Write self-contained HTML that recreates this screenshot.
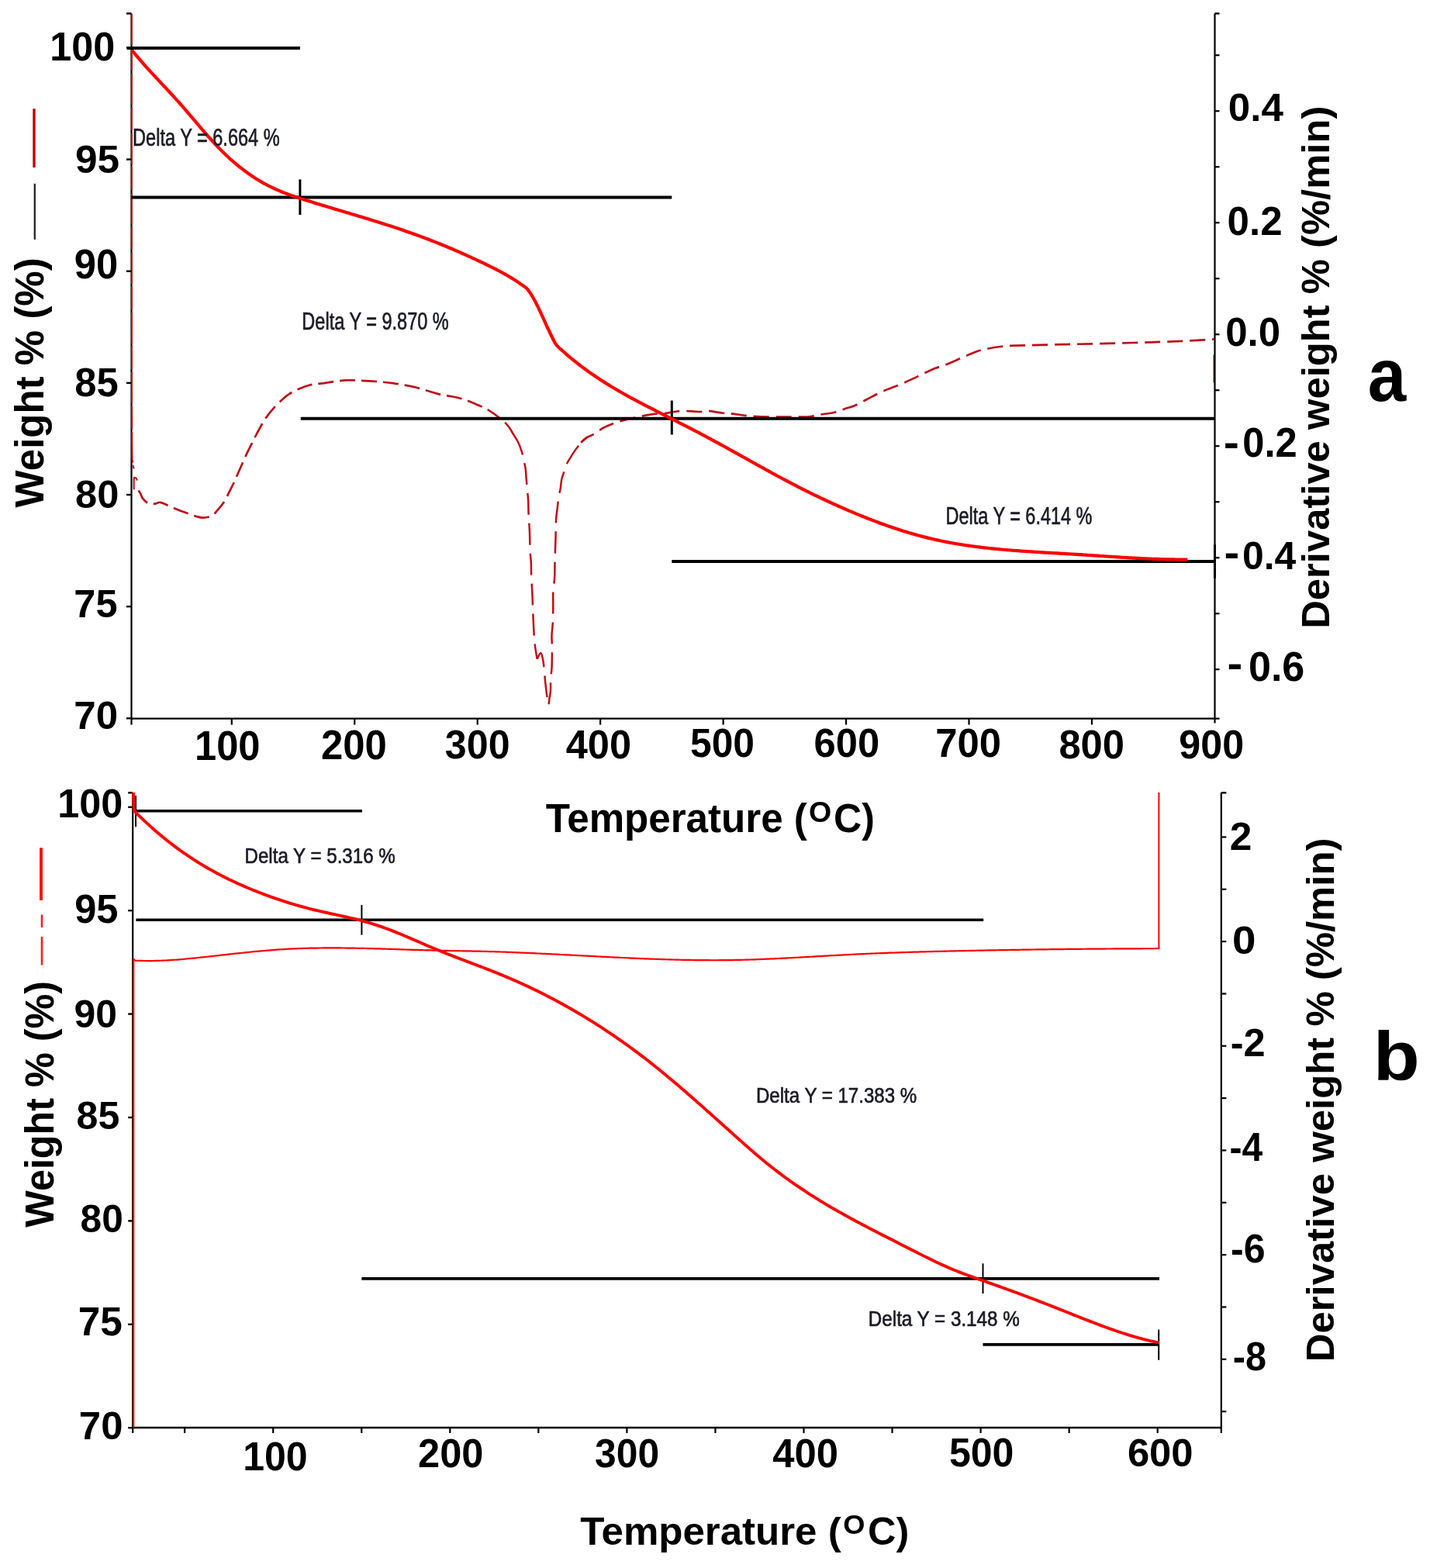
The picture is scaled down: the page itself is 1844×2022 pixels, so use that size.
<!DOCTYPE html>
<html><head><meta charset="utf-8"><title>TGA / DTG curves</title>
<style>
html,body{margin:0;padding:0;background:#fff;}
body{width:1844px;height:2022px;overflow:hidden;}
svg{display:block;}
text{font-family:"Liberation Sans",Arial,Helvetica,sans-serif;}
</style></head>
<body>
<svg width="1844" height="2022" viewBox="0 0 1844 2022">
<rect x="0" y="0" width="1844" height="2022" fill="#fff"/>
<line x1="169.5" y1="17.4" x2="169.5" y2="926.6" stroke="#000" stroke-width="2.2" />
<path d="M169.8,18 C169.8,65 169.73,209.67 169.8,300 C169.87,390.33 169.97,510.67 170.2,560 C170.43,609.33 170.78,588.6 171.2,596 C171.62,603.4 172.45,603 172.7,604.4" fill="none" stroke="#c00d18" stroke-width="2" stroke-linejoin="round" stroke-dasharray="40 3 30 4"/>
<path d="M172.7,631.3 L172.7,615.7 L175.5,616.5 L177,619.5" fill="none" stroke="#c00d18" stroke-width="2" stroke-linejoin="round" />
<path d="M178.6,632.4 C179.03,633.08 180.3,634.8 181.2,636.5 C182.1,638.2 182.35,640.48 184,642.6 C185.65,644.72 188.5,648.02 191.1,649.2 C193.7,650.38 197,649.93 199.6,649.7 C202.2,649.47 203.87,647.45 206.7,647.8 C209.53,648.15 213.07,650.32 216.6,651.8 C220.13,653.28 224.13,655.17 227.9,656.7 C231.67,658.23 235.2,659.52 239.2,661 C243.2,662.48 248.13,664.5 251.9,665.6 C255.67,666.7 258.27,667.67 261.8,667.6 C265.33,667.53 270.03,666.78 273.1,665.2 C276.17,663.62 277.6,661.05 280.2,658.1 C282.8,655.15 286.12,651.5 288.7,647.5 C291.28,643.5 293.58,638.22 295.7,634.1 C297.82,629.98 299.52,626.8 301.4,622.8 C303.28,618.8 305.12,614.35 307,610.1 C308.88,605.85 310.8,601.55 312.7,597.3 C314.6,593.05 316.52,588.6 318.4,584.6 C320.28,580.6 322.12,577.07 324,573.3 C325.88,569.53 327.35,566.47 329.7,562 C332.05,557.53 335.75,550.57 338.1,546.5 C340.45,542.43 341.67,540.58 343.8,537.6 C345.93,534.62 348.07,531.83 350.9,528.6 C353.73,525.37 357.27,521.53 360.8,518.2 C364.33,514.87 367.87,511.43 372.1,508.6 C376.33,505.77 381.48,503.25 386.2,501.2 C390.92,499.15 395.57,497.43 400.4,496.3 C405.23,495.17 410.18,495.1 415.2,494.4 C420.22,493.7 425.42,492.78 430.5,492.1 C435.58,491.42 440.63,490.55 445.7,490.3 C450.77,490.05 455.83,490.43 460.9,490.6 C465.97,490.77 471.02,490.98 476.1,491.3 C481.18,491.62 486.32,492.03 491.4,492.5 C496.48,492.97 501.53,493.42 506.6,494.1 C511.67,494.78 516.73,495.67 521.8,496.6 C526.87,497.53 531.92,498.42 537,499.7 C542.08,500.98 547.22,502.82 552.3,504.3 C557.38,505.78 562.43,507.43 567.5,508.6 C572.57,509.77 577.63,510.25 582.7,511.3 C587.77,512.35 592.82,513.28 597.9,514.9 C602.98,516.52 608.12,518.83 613.2,521 C618.28,523.17 623.33,524.98 628.4,527.9 C633.47,530.82 639.17,534.98 643.6,538.5 C648.03,542.02 651.85,545.27 655,549 C658.15,552.73 661.25,558.92 662.5,560.9" fill="none" stroke="#c00d18" stroke-width="2.7" stroke-linejoin="round" stroke-dasharray="20 8"/>
<path d="M662.5,560.9 C663.4,562.38 666.18,566.23 667.9,569.8 C669.62,573.37 671.55,578.28 672.8,582.3 C674.05,586.32 674.58,590.18 675.4,593.9 C676.22,597.62 677.17,600.87 677.7,604.6 C678.23,608.33 678.23,611.83 678.6,616.3 C678.97,620.77 679.48,626.62 679.9,631.4 C680.32,636.18 680.8,639.33 681.1,645 C681.4,650.67 681.38,658.43 681.7,665.4 C682.02,672.37 682.7,679.37 683,686.8 C683.3,694.23 683.2,703.6 683.5,710 C683.8,716.4 684.53,719.98 684.8,725.2 C685.07,730.42 684.82,734.22 685.1,741.3 C685.38,748.38 686.18,760.95 686.5,767.7 C686.82,774.45 686.68,773.95 687,781.8 C687.32,789.65 687.93,806.47 688.4,814.8 C688.87,823.13 689.1,825.98 689.8,831.8 C690.5,837.62 692.13,846.72 692.6,849.7" fill="none" stroke="#c00d18" stroke-width="2.5" stroke-linejoin="round" stroke-dasharray="28 11"/>
<path d="M692.6,849.7 C693.38,848.43 696.05,841.95 697.3,842.1 C698.55,842.25 699.38,847.3 700.1,850.6 C700.82,853.9 701.12,857.35 701.6,861.9 C702.08,866.45 702.43,872.38 703,877.9 C703.57,883.42 704.3,889.82 705,895 C705.7,900.18 706.6,908.17 707.2,909 C707.8,909.83 708.13,903.13 708.6,900 C709.07,896.87 709.77,894.52 710,890.2 C710.23,885.88 709.75,878.82 710,874.1 C710.25,869.38 711.18,868.48 711.5,861.9 C711.82,855.32 711.9,841.67 711.9,834.6 C711.9,827.53 711.33,825 711.5,819.5 C711.67,814 712.6,808.03 712.9,801.6 C713.2,795.17 713.23,787.18 713.3,780.9 C713.37,774.62 712.98,770.03 713.3,763.9 C713.62,757.77 714.83,750.58 715.2,744.1 C715.57,737.62 715.28,733.37 715.5,725 C715.72,716.63 716.25,702.95 716.5,693.9 C716.75,684.85 716.62,677.25 717,670.7 C717.38,664.15 718.22,659.65 718.8,654.6 C719.38,649.55 719.83,644.57 720.5,640.4 C721.17,636.23 722.2,633.18 722.8,629.6 C723.4,626.02 723.28,622.62 724.1,618.9 C724.92,615.18 726.65,610.57 727.7,607.3 C728.75,604.03 729.22,601.97 730.4,599.3 C731.58,596.63 733.02,594.28 734.8,591.3 C736.58,588.32 738.72,584.83 741.1,581.4 C743.48,577.97 747.77,572.48 749.1,570.7" fill="none" stroke="#c00d18" stroke-width="2.5" stroke-linejoin="round" stroke-dasharray="28 11"/>
<path d="M749.1,570.7 C750.42,569.58 754.17,565.83 757,564 C759.83,562.17 762.62,561.73 766.1,559.7 C769.58,557.67 773.92,554 777.9,551.8 C781.88,549.6 785.65,548.13 790,546.5 C794.35,544.87 798.4,543.5 804,542 C809.6,540.5 817.08,538.85 823.6,537.5 C830.12,536.15 837.67,534.62 843.1,533.9 C848.53,533.18 851.85,533.68 856.2,533.2 C860.55,532.72 864.85,531.55 869.2,531 C873.55,530.45 876.85,529.9 882.3,529.9 C887.75,529.9 896.78,531.02 901.9,531 C907.02,530.98 908.1,529.55 913,529.8 C917.9,530.05 925.85,531.85 931.3,532.5 C936.75,533.15 940.03,533.07 945.7,533.7 C951.37,534.33 957.68,535.65 965.3,536.3 C972.92,536.95 982.7,537.38 991.4,537.6 C1000.1,537.82 1008.8,537.65 1017.5,537.6 C1026.2,537.55 1037.08,537.77 1043.6,537.3 C1050.12,536.83 1051.17,535.73 1056.6,534.8 C1062.03,533.87 1070.77,532.97 1076.2,531.7 C1081.63,530.43 1084.85,528.67 1089.2,527.2 C1093.55,525.73 1097.6,524.9 1102.3,522.9 C1107,520.9 1111.27,518.3 1117.4,515.2 C1123.53,512.1 1131.85,507.55 1139.1,504.3 C1146.35,501.05 1153.65,498.77 1160.9,495.7 C1168.15,492.63 1175.37,489.27 1182.6,485.9 C1189.83,482.53 1197.78,478.22 1204.3,475.5 C1210.82,472.78 1215.17,472.22 1221.7,469.6 C1228.23,466.98 1237.12,462.57 1243.5,459.8 C1249.88,457.03 1255.28,454.63 1260,453 C1264.72,451.37 1266.8,451 1271.8,450 C1276.8,449 1283.83,447.72 1290,447 C1296.17,446.28 1294.8,446.18 1308.8,445.7 C1322.8,445.22 1348.63,444.72 1374,444.1 C1399.37,443.48 1435.62,442.72 1461,442 C1486.38,441.28 1508.9,440.57 1526.3,439.8 C1543.7,439.03 1558.88,437.8 1565.4,437.4" fill="none" stroke="#c00d18" stroke-width="2.7" stroke-linejoin="round" stroke-dasharray="20 9"/>
<line x1="1565.6" y1="457.6" x2="1565.6" y2="493.5" stroke="#c00d18" stroke-width="2.2" />
<line x1="169" y1="926.6" x2="1572.5" y2="926.6" stroke="#000" stroke-width="2.4" />
<line x1="1566.5" y1="17.4" x2="1566.5" y2="932.6" stroke="#000" stroke-width="2.2" />
<line x1="163" y1="17.4" x2="169.5" y2="17.4" stroke="#000" stroke-width="2.4" />
<line x1="163" y1="61.4" x2="169.5" y2="61.4" stroke="#000" stroke-width="2.4" />
<line x1="163" y1="205.55" x2="169.5" y2="205.55" stroke="#000" stroke-width="2.4" />
<line x1="163" y1="349.7" x2="169.5" y2="349.7" stroke="#000" stroke-width="2.4" />
<line x1="163" y1="493.85" x2="169.5" y2="493.85" stroke="#000" stroke-width="2.4" />
<line x1="163" y1="638" x2="169.5" y2="638" stroke="#000" stroke-width="2.4" />
<line x1="163" y1="782.15" x2="169.5" y2="782.15" stroke="#000" stroke-width="2.4" />
<line x1="163" y1="926.3" x2="169.5" y2="926.3" stroke="#000" stroke-width="2.4" />
<line x1="169.5" y1="926.6" x2="169.5" y2="934.6" stroke="#000" stroke-width="2.2" />
<line x1="298.8" y1="926.6" x2="298.8" y2="934.6" stroke="#000" stroke-width="2.2" />
<line x1="457.25" y1="926.6" x2="457.25" y2="934.6" stroke="#000" stroke-width="2.2" />
<line x1="615.7" y1="926.6" x2="615.7" y2="934.6" stroke="#000" stroke-width="2.2" />
<line x1="774.15" y1="926.6" x2="774.15" y2="934.6" stroke="#000" stroke-width="2.2" />
<line x1="932.6" y1="926.6" x2="932.6" y2="934.6" stroke="#000" stroke-width="2.2" />
<line x1="1091.05" y1="926.6" x2="1091.05" y2="934.6" stroke="#000" stroke-width="2.2" />
<line x1="1249.5" y1="926.6" x2="1249.5" y2="934.6" stroke="#000" stroke-width="2.2" />
<line x1="1407.95" y1="926.6" x2="1407.95" y2="934.6" stroke="#000" stroke-width="2.2" />
<line x1="1566.5" y1="17.4" x2="1572.5" y2="17.4" stroke="#000" stroke-width="2.4" />
<line x1="1566.5" y1="863.2" x2="1572.5" y2="863.2" stroke="#000" stroke-width="2.2" />
<line x1="1566.5" y1="791.2" x2="1572.5" y2="791.2" stroke="#000" stroke-width="2.2" />
<line x1="1566.5" y1="719.2" x2="1572.5" y2="719.2" stroke="#000" stroke-width="2.2" />
<line x1="1566.5" y1="647.2" x2="1572.5" y2="647.2" stroke="#000" stroke-width="2.2" />
<line x1="1566.5" y1="575.2" x2="1572.5" y2="575.2" stroke="#000" stroke-width="2.2" />
<line x1="1566.5" y1="503.2" x2="1572.5" y2="503.2" stroke="#000" stroke-width="2.2" />
<line x1="1566.5" y1="431.2" x2="1572.5" y2="431.2" stroke="#000" stroke-width="2.2" />
<line x1="1566.5" y1="359.2" x2="1572.5" y2="359.2" stroke="#000" stroke-width="2.2" />
<line x1="1566.5" y1="287.2" x2="1572.5" y2="287.2" stroke="#000" stroke-width="2.2" />
<line x1="1566.5" y1="215.2" x2="1572.5" y2="215.2" stroke="#000" stroke-width="2.2" />
<line x1="1566.5" y1="143.2" x2="1572.5" y2="143.2" stroke="#000" stroke-width="2.2" />
<line x1="1566.5" y1="71.2" x2="1572.5" y2="71.2" stroke="#000" stroke-width="2.2" />
<line x1="163.5" y1="62" x2="387" y2="62" stroke="#000" stroke-width="4" />
<line x1="169.5" y1="254.6" x2="866.3" y2="254.6" stroke="#000" stroke-width="4" />
<line x1="386.9" y1="231.4" x2="386.9" y2="277" stroke="#000" stroke-width="3" />
<line x1="387.8" y1="539.7" x2="1566.5" y2="539.7" stroke="#000" stroke-width="4" />
<line x1="866.3" y1="516.5" x2="866.3" y2="560.5" stroke="#000" stroke-width="3" />
<line x1="866.3" y1="724" x2="1566.5" y2="724" stroke="#000" stroke-width="4" />
<line x1="1566.5" y1="702.3" x2="1566.5" y2="745.8" stroke="#000" stroke-width="3" />
<path d="M170.2,64.73 C170.7,65.36 172.21,67.24 173.21,68.47 C174.22,69.7 175.22,70.91 176.22,72.12 C177.23,73.32 178.23,74.51 179.24,75.69 C180.24,76.87 181.25,78.04 182.25,79.2 C183.25,80.36 184.26,81.5 185.26,82.64 C186.27,83.78 187.27,84.91 188.27,86.03 C189.28,87.16 190.28,88.27 191.29,89.38 C192.29,90.48 193.3,91.58 194.3,92.68 C195.3,93.77 196.31,94.86 197.31,95.95 C198.32,97.03 199.32,98.11 200.32,99.19 C201.33,100.26 202.33,101.34 203.34,102.41 C204.34,103.48 205.34,104.55 206.35,105.62 C207.35,106.69 208.36,107.75 209.36,108.82 C210.37,109.89 211.37,110.96 212.37,112.03 C213.38,113.1 214.38,114.17 215.39,115.24 C216.39,116.32 217.39,117.39 218.4,118.47 C219.4,119.55 220.41,120.64 221.41,121.72 C222.42,122.81 223.42,123.91 224.42,125.01 C225.43,126.11 226.43,127.21 227.44,128.33 C228.44,129.44 229.44,130.56 230.45,131.69 C231.45,132.82 232.46,133.96 233.46,135.1 C234.47,136.24 235.47,137.4 236.47,138.55 C237.48,139.71 238.48,140.87 239.49,142.04 C240.49,143.21 241.49,144.38 242.5,145.56 C243.5,146.73 244.51,147.91 245.51,149.09 C246.51,150.27 247.52,151.45 248.52,152.64 C249.53,153.82 250.53,155 251.54,156.19 C252.54,157.37 253.54,158.55 254.55,159.73 C255.55,160.91 256.56,162.09 257.56,163.27 C258.56,164.44 259.57,165.61 260.57,166.78 C261.58,167.95 262.58,169.11 263.59,170.27 C264.59,171.43 265.59,172.58 266.6,173.73 C267.6,174.87 268.61,176.01 269.61,177.14 C270.61,178.27 271.62,179.39 272.62,180.5 C273.63,181.61 274.63,182.71 275.63,183.8 C276.64,184.89 277.64,185.98 278.65,187.04 C279.65,188.11 280.66,189.17 281.66,190.21 C282.66,191.25 283.67,192.28 284.67,193.3 C285.68,194.31 286.68,195.31 287.68,196.3 C288.69,197.29 289.69,198.26 290.7,199.22 C291.7,200.18 292.71,201.13 293.71,202.06 C294.71,203 295.72,203.92 296.72,204.83 C297.73,205.73 298.73,206.63 299.73,207.51 C300.74,208.39 301.74,209.26 302.75,210.11 C303.75,210.97 304.76,211.81 305.76,212.64 C306.76,213.47 307.77,214.29 308.77,215.09 C309.78,215.9 310.78,216.69 311.78,217.47 C312.79,218.25 313.79,219.02 314.8,219.77 C315.8,220.53 316.8,221.27 317.81,222 C318.81,222.73 319.82,223.45 320.82,224.15 C321.83,224.86 322.83,225.55 323.83,226.24 C324.84,226.92 325.84,227.59 326.85,228.25 C327.85,228.91 328.85,229.55 329.86,230.19 C330.86,230.82 331.87,231.45 332.87,232.06 C333.88,232.67 334.88,233.27 335.88,233.86 C336.89,234.45 337.89,235.03 338.9,235.6 C339.9,236.16 340.9,236.72 341.91,237.26 C342.91,237.81 343.92,238.34 344.92,238.87 C345.92,239.39 346.93,239.9 347.93,240.4 C348.94,240.9 349.94,241.39 350.95,241.87 C351.95,242.35 352.95,242.82 353.96,243.28 C354.96,243.74 355.97,244.2 356.97,244.64 C357.97,245.08 358.98,245.51 359.98,245.94 C360.99,246.36 361.99,246.78 363,247.19 C364,247.6 365,248 366.01,248.39 C367.01,248.79 368.02,249.17 369.02,249.55 C370.02,249.93 371.03,250.31 372.03,250.68 C373.04,251.04 374.04,251.41 375.04,251.76 C376.05,252.12 377.05,252.47 378.06,252.82 C379.06,253.17 380.07,253.51 381.07,253.85 C382.07,254.18 383.08,254.52 384.08,254.85 C385.09,255.18 386.09,255.51 387.09,255.83 C388.1,256.15 389.1,256.47 390.11,256.79 C391.11,257.11 392.12,257.43 393.12,257.74 C394.12,258.06 395.13,258.37 396.13,258.68 C397.14,259 398.14,259.31 399.14,259.62 C400.15,259.93 401.15,260.24 402.16,260.55 C403.16,260.86 404.17,261.16 405.17,261.47 C406.17,261.78 407.18,262.09 408.18,262.39 C409.19,262.7 410.19,263 411.19,263.31 C412.2,263.61 413.2,263.92 414.21,264.22 C415.21,264.53 416.21,264.83 417.22,265.13 C418.22,265.43 419.23,265.74 420.23,266.04 C421.24,266.34 422.24,266.64 423.24,266.94 C424.25,267.25 425.25,267.55 426.26,267.85 C427.26,268.15 428.26,268.45 429.27,268.75 C430.27,269.05 431.28,269.35 432.28,269.65 C433.29,269.95 434.29,270.25 435.29,270.55 C436.3,270.85 437.3,271.15 438.31,271.45 C439.31,271.75 440.31,272.05 441.32,272.35 C442.32,272.65 443.33,272.95 444.33,273.25 C445.33,273.55 446.34,273.85 447.34,274.15 C448.35,274.45 449.35,274.75 450.36,275.05 C451.36,275.35 452.36,275.65 453.37,275.95 C454.37,276.25 455.38,276.56 456.38,276.86 C457.38,277.16 458.39,277.46 459.39,277.76 C460.4,278.07 461.4,278.37 462.41,278.67 C463.41,278.98 464.41,279.28 465.42,279.58 C466.42,279.89 467.43,280.19 468.43,280.5 C469.43,280.8 470.44,281.11 471.44,281.42 C472.45,281.72 473.45,282.03 474.46,282.34 C475.46,282.65 476.46,282.95 477.47,283.26 C478.47,283.57 479.48,283.88 480.48,284.19 C481.48,284.5 482.49,284.82 483.49,285.13 C484.5,285.44 485.5,285.75 486.5,286.07 C487.51,286.38 488.51,286.7 489.52,287.02 C490.52,287.33 491.53,287.65 492.53,287.97 C493.53,288.29 494.54,288.6 495.54,288.93 C496.55,289.25 497.55,289.57 498.55,289.89 C499.56,290.21 500.56,290.54 501.57,290.86 C502.57,291.19 503.58,291.51 504.58,291.84 C505.58,292.17 506.59,292.5 507.59,292.83 C508.6,293.16 509.6,293.49 510.6,293.82 C511.61,294.16 512.61,294.49 513.62,294.83 C514.62,295.16 515.62,295.5 516.63,295.84 C517.63,296.18 518.64,296.52 519.64,296.86 C520.65,297.21 521.65,297.55 522.65,297.89 C523.66,298.24 524.66,298.59 525.67,298.94 C526.67,299.28 527.67,299.64 528.68,299.99 C529.68,300.34 530.69,300.69 531.69,301.05 C532.7,301.41 533.7,301.76 534.7,302.12 C535.71,302.48 536.71,302.84 537.72,303.21 C538.72,303.57 539.72,303.94 540.73,304.3 C541.73,304.67 542.74,305.04 543.74,305.41 C544.74,305.78 545.75,306.16 546.75,306.53 C547.76,306.91 548.76,307.29 549.77,307.67 C550.77,308.05 551.77,308.43 552.78,308.81 C553.78,309.2 554.79,309.58 555.79,309.97 C556.79,310.36 557.8,310.75 558.8,311.15 C559.81,311.54 560.81,311.93 561.82,312.33 C562.82,312.73 563.82,313.13 564.83,313.53 C565.83,313.94 566.84,314.34 567.84,314.75 C568.84,315.15 569.85,315.56 570.85,315.97 C571.86,316.38 572.86,316.8 573.87,317.21 C574.87,317.63 575.87,318.04 576.88,318.46 C577.88,318.88 578.89,319.31 579.89,319.73 C580.89,320.15 581.9,320.58 582.9,321.01 C583.91,321.43 584.91,321.86 585.91,322.3 C586.92,322.73 587.92,323.16 588.93,323.6 C589.93,324.04 590.94,324.47 591.94,324.91 C592.94,325.35 593.95,325.8 594.95,326.24 C595.96,326.68 596.96,327.13 597.96,327.58 C598.97,328.03 599.97,328.48 600.98,328.93 C601.98,329.38 602.99,329.84 603.99,330.29 C604.99,330.75 606,331.21 607,331.66 C608.01,332.12 609.01,332.59 610.01,333.05 C611.02,333.51 612.02,333.98 613.03,334.45 C614.03,334.91 615.03,335.38 616.04,335.85 C617.04,336.33 618.05,336.8 619.05,337.27 C620.06,337.75 621.06,338.22 622.06,338.7 C623.07,339.18 624.07,339.66 625.08,340.14 C626.08,340.63 627.08,341.11 628.09,341.6 C629.09,342.08 630.1,342.57 631.1,343.07 C632.11,343.56 633.11,344.06 634.11,344.56 C635.12,345.06 636.12,345.56 637.13,346.07 C638.13,346.58 639.13,347.09 640.14,347.61 C641.14,348.13 642.15,348.66 643.15,349.19 C644.16,349.72 645.16,350.25 646.16,350.8 C647.17,351.34 648.17,351.89 649.18,352.44 C650.18,353 651.18,353.56 652.19,354.13 C653.19,354.71 654.2,355.28 655.2,355.87 C656.2,356.46 657.21,357.05 658.21,357.66 C659.22,358.27 660.22,358.88 661.23,359.5 C662.23,360.13 663.23,360.76 664.24,361.4 C665.24,362.05 666.25,362.7 667.25,363.37 C668.25,364.03 669.26,364.71 670.26,365.39 C671.27,366.08 672.27,366.78 673.28,367.49 C674.28,368.2 675.28,368.93 676.29,369.66 C677.29,370.4 678.45,371.11 679.3,371.91 C680.15,372.71 680.68,373.59 681.37,374.49 C682.06,375.4 682.74,376.33 683.43,377.33 C684.12,378.34 684.81,379.41 685.5,380.52 C686.19,381.63 686.88,382.8 687.57,384.01 C688.26,385.22 688.94,386.47 689.63,387.76 C690.32,389.05 691.01,390.39 691.7,391.75 C692.39,393.1 693.08,394.5 693.77,395.92 C694.46,397.33 695.14,398.78 695.83,400.24 C696.52,401.7 697.21,403.18 697.9,404.68 C698.59,406.17 699.28,407.68 699.97,409.19 C700.66,410.7 701.34,412.22 702.03,413.73 C702.72,415.25 703.41,416.77 704.1,418.28 C704.79,419.79 705.48,421.3 706.17,422.79 C706.86,424.27 707.54,425.76 708.23,427.21 C708.92,428.67 709.61,430.11 710.3,431.53 C710.99,432.94 711.68,434.33 712.37,435.69 C713.06,437.04 713.74,438.37 714.43,439.65 C715.12,440.94 715.65,442.15 716.5,443.39 C717.35,444.63 718.5,446 719.51,447.07 C720.51,448.15 721.51,448.92 722.51,449.84 C723.52,450.75 724.52,451.65 725.52,452.54 C726.52,453.44 727.52,454.32 728.53,455.19 C729.53,456.07 730.53,456.94 731.53,457.79 C732.54,458.65 733.54,459.5 734.54,460.34 C735.54,461.18 736.54,462.01 737.55,462.83 C738.55,463.66 739.55,464.47 740.55,465.28 C741.56,466.08 742.56,466.88 743.56,467.67 C744.56,468.47 745.56,469.25 746.57,470.02 C747.57,470.8 748.57,471.57 749.57,472.33 C750.58,473.09 751.58,473.84 752.58,474.59 C753.58,475.33 754.58,476.07 755.59,476.8 C756.59,477.53 757.59,478.26 758.59,478.98 C759.6,479.69 760.6,480.41 761.6,481.11 C762.6,481.81 763.6,482.51 764.61,483.2 C765.61,483.9 766.61,484.58 767.61,485.26 C768.62,485.94 769.62,486.61 770.62,487.28 C771.62,487.95 772.62,488.61 773.63,489.27 C774.63,489.92 775.63,490.57 776.63,491.22 C777.64,491.86 778.64,492.5 779.64,493.14 C780.64,493.77 781.64,494.4 782.65,495.02 C783.65,495.65 784.65,496.27 785.65,496.88 C786.65,497.49 787.66,498.1 788.66,498.71 C789.66,499.31 790.66,499.91 791.67,500.51 C792.67,501.11 793.67,501.7 794.67,502.29 C795.67,502.87 796.68,503.46 797.68,504.04 C798.68,504.62 799.68,505.19 800.69,505.76 C801.69,506.34 802.69,506.91 803.69,507.47 C804.69,508.04 805.7,508.6 806.7,509.16 C807.7,509.71 808.7,510.27 809.71,510.82 C810.71,511.37 811.71,511.92 812.71,512.47 C813.71,513.01 814.72,513.56 815.72,514.1 C816.72,514.64 817.72,515.18 818.73,515.71 C819.73,516.25 820.73,516.78 821.73,517.32 C822.73,517.85 823.74,518.38 824.74,518.9 C825.74,519.43 826.74,519.96 827.75,520.48 C828.75,521.01 829.75,521.53 830.75,522.05 C831.75,522.57 832.76,523.09 833.76,523.61 C834.76,524.13 835.76,524.64 836.77,525.16 C837.77,525.67 838.77,526.19 839.77,526.7 C840.77,527.22 841.78,527.73 842.78,528.24 C843.78,528.75 844.78,529.27 845.79,529.78 C846.79,530.29 847.79,530.8 848.79,531.31 C849.79,531.82 850.8,532.33 851.8,532.83 C852.8,533.34 853.8,533.85 854.81,534.36 C855.81,534.87 856.81,535.37 857.81,535.88 C858.81,536.39 859.82,536.9 860.82,537.4 C861.82,537.91 862.82,538.42 863.83,538.93 C864.83,539.43 865.83,539.94 866.83,540.45 C867.83,540.95 868.84,541.46 869.84,541.97 C870.84,542.48 871.84,542.99 872.85,543.49 C873.85,544 874.85,544.51 875.85,545.02 C876.85,545.53 877.86,546.04 878.86,546.55 C879.86,547.06 880.86,547.57 881.87,548.09 C882.87,548.6 883.87,549.11 884.87,549.63 C885.87,550.14 886.88,550.65 887.88,551.17 C888.88,551.69 889.88,552.2 890.89,552.72 C891.89,553.24 892.89,553.76 893.89,554.28 C894.89,554.8 895.9,555.32 896.9,555.84 C897.9,556.37 898.9,556.89 899.91,557.42 C900.91,557.94 901.91,558.47 902.91,559 C903.91,559.53 904.92,560.06 905.92,560.59 C906.92,561.12 907.92,561.66 908.93,562.19 C909.93,562.73 910.93,563.26 911.93,563.8 C912.93,564.34 913.94,564.88 914.94,565.42 C915.94,565.96 916.94,566.5 917.95,567.04 C918.95,567.58 919.95,568.13 920.95,568.67 C921.95,569.22 922.96,569.76 923.96,570.31 C924.96,570.86 925.96,571.4 926.96,571.95 C927.97,572.5 928.97,573.05 929.97,573.6 C930.97,574.15 931.98,574.7 932.98,575.26 C933.98,575.81 934.98,576.36 935.98,576.91 C936.99,577.47 937.99,578.02 938.99,578.58 C939.99,579.13 941,579.68 942,580.24 C943,580.8 944,581.35 945,581.91 C946.01,582.46 947.01,583.02 948.01,583.58 C949.01,584.14 950.02,584.69 951.02,585.25 C952.02,585.81 953.02,586.37 954.02,586.93 C955.03,587.48 956.03,588.04 957.03,588.6 C958.03,589.16 959.04,589.72 960.04,590.27 C961.04,590.83 962.04,591.39 963.04,591.95 C964.05,592.51 965.05,593.07 966.05,593.62 C967.05,594.18 968.06,594.74 969.06,595.3 C970.06,595.86 971.06,596.41 972.06,596.97 C973.07,597.53 974.07,598.08 975.07,598.64 C976.07,599.2 977.08,599.75 978.08,600.31 C979.08,600.86 980.08,601.42 981.08,601.97 C982.09,602.52 983.09,603.08 984.09,603.63 C985.09,604.18 986.1,604.74 987.1,605.29 C988.1,605.84 989.1,606.39 990.1,606.94 C991.11,607.49 992.11,608.04 993.11,608.59 C994.11,609.13 995.12,609.68 996.12,610.23 C997.12,610.77 998.12,611.32 999.12,611.86 C1000.13,612.41 1001.13,612.95 1002.13,613.49 C1003.13,614.03 1004.14,614.57 1005.14,615.11 C1006.14,615.65 1007.14,616.19 1008.14,616.73 C1009.15,617.26 1010.15,617.8 1011.15,618.33 C1012.15,618.87 1013.16,619.4 1014.16,619.93 C1015.16,620.46 1016.16,620.99 1017.16,621.52 C1018.17,622.05 1019.17,622.57 1020.17,623.1 C1021.17,623.62 1022.18,624.14 1023.18,624.67 C1024.18,625.19 1025.18,625.71 1026.18,626.22 C1027.19,626.74 1028.19,627.26 1029.19,627.77 C1030.19,628.29 1031.2,628.8 1032.2,629.31 C1033.2,629.82 1034.2,630.33 1035.2,630.83 C1036.21,631.34 1037.21,631.84 1038.21,632.34 C1039.21,632.85 1040.22,633.35 1041.22,633.84 C1042.22,634.34 1043.22,634.84 1044.22,635.33 C1045.23,635.83 1046.23,636.32 1047.23,636.81 C1048.23,637.3 1049.24,637.79 1050.24,638.28 C1051.24,638.76 1052.24,639.25 1053.24,639.73 C1054.25,640.21 1055.25,640.69 1056.25,641.17 C1057.25,641.65 1058.25,642.13 1059.26,642.6 C1060.26,643.07 1061.26,643.55 1062.26,644.02 C1063.27,644.49 1064.27,644.96 1065.27,645.42 C1066.27,645.89 1067.27,646.36 1068.28,646.82 C1069.28,647.28 1070.28,647.74 1071.28,648.2 C1072.29,648.66 1073.29,649.12 1074.29,649.57 C1075.29,650.03 1076.29,650.48 1077.3,650.93 C1078.3,651.38 1079.3,651.83 1080.3,652.28 C1081.31,652.72 1082.31,653.17 1083.31,653.61 C1084.31,654.06 1085.31,654.5 1086.32,654.94 C1087.32,655.37 1088.32,655.81 1089.32,656.25 C1090.33,656.68 1091.33,657.11 1092.33,657.55 C1093.33,657.98 1094.33,658.41 1095.34,658.83 C1096.34,659.26 1097.34,659.69 1098.34,660.11 C1099.35,660.53 1100.35,660.95 1101.35,661.37 C1102.35,661.79 1103.35,662.21 1104.36,662.62 C1105.36,663.04 1106.36,663.45 1107.36,663.86 C1108.37,664.27 1109.37,664.68 1110.37,665.09 C1111.37,665.5 1112.37,665.9 1113.38,666.3 C1114.38,666.7 1115.38,667.1 1116.38,667.5 C1117.39,667.9 1118.39,668.3 1119.39,668.69 C1120.39,669.08 1121.39,669.47 1122.4,669.86 C1123.4,670.25 1124.4,670.64 1125.4,671.02 C1126.41,671.4 1127.41,671.79 1128.41,672.16 C1129.41,672.54 1130.41,672.92 1131.42,673.29 C1132.42,673.67 1133.42,674.04 1134.42,674.41 C1135.43,674.78 1136.43,675.14 1137.43,675.51 C1138.43,675.87 1139.43,676.23 1140.44,676.59 C1141.44,676.95 1142.44,677.3 1143.44,677.66 C1144.45,678.01 1145.45,678.36 1146.45,678.71 C1147.45,679.06 1148.45,679.4 1149.46,679.74 C1150.46,680.09 1151.46,680.42 1152.46,680.76 C1153.47,681.1 1154.47,681.43 1155.47,681.76 C1156.47,682.09 1157.47,682.42 1158.48,682.75 C1159.48,683.07 1160.48,683.39 1161.48,683.71 C1162.49,684.03 1163.49,684.35 1164.49,684.66 C1165.49,684.98 1166.49,685.29 1167.5,685.59 C1168.5,685.9 1169.5,686.21 1170.5,686.51 C1171.51,686.81 1172.51,687.11 1173.51,687.4 C1174.51,687.7 1175.51,687.99 1176.52,688.28 C1177.52,688.57 1178.52,688.86 1179.52,689.14 C1180.53,689.42 1181.53,689.7 1182.53,689.98 C1183.53,690.26 1184.53,690.53 1185.54,690.8 C1186.54,691.07 1187.54,691.34 1188.54,691.61 C1189.55,691.87 1190.55,692.13 1191.55,692.39 C1192.55,692.65 1193.55,692.9 1194.56,693.15 C1195.56,693.4 1196.56,693.65 1197.56,693.9 C1198.56,694.14 1199.57,694.38 1200.57,694.62 C1201.57,694.86 1202.57,695.09 1203.58,695.32 C1204.58,695.56 1205.58,695.78 1206.58,696.01 C1207.58,696.23 1208.59,696.45 1209.59,696.67 C1210.59,696.89 1211.59,697.1 1212.6,697.31 C1213.6,697.53 1214.6,697.73 1215.6,697.94 C1216.6,698.14 1217.61,698.34 1218.61,698.54 C1219.61,698.74 1220.61,698.93 1221.62,699.12 C1222.62,699.32 1223.62,699.51 1224.62,699.69 C1225.62,699.88 1226.63,700.06 1227.63,700.24 C1228.63,700.42 1229.63,700.6 1230.64,700.77 C1231.64,700.94 1232.64,701.11 1233.64,701.28 C1234.64,701.45 1235.65,701.62 1236.65,701.78 C1237.65,701.94 1238.65,702.1 1239.66,702.26 C1240.66,702.42 1241.66,702.58 1242.66,702.73 C1243.66,702.88 1244.67,703.03 1245.67,703.18 C1246.67,703.33 1247.67,703.47 1248.68,703.62 C1249.68,703.76 1250.68,703.9 1251.68,704.04 C1252.68,704.18 1253.69,704.32 1254.69,704.45 C1255.69,704.59 1256.69,704.72 1257.7,704.85 C1258.7,704.98 1259.7,705.11 1260.7,705.23 C1261.7,705.36 1262.71,705.48 1263.71,705.61 C1264.71,705.73 1265.71,705.85 1266.72,705.97 C1267.72,706.08 1268.72,706.2 1269.72,706.32 C1270.72,706.43 1271.73,706.54 1272.73,706.65 C1273.73,706.76 1274.73,706.87 1275.74,706.98 C1276.74,707.09 1277.74,707.19 1278.74,707.3 C1279.74,707.4 1280.75,707.5 1281.75,707.61 C1282.75,707.71 1283.75,707.81 1284.76,707.9 C1285.76,708 1286.76,708.1 1287.76,708.19 C1288.76,708.29 1289.77,708.38 1290.77,708.47 C1291.77,708.56 1292.77,708.65 1293.78,708.74 C1294.78,708.83 1295.78,708.92 1296.78,709 C1297.78,709.09 1298.79,709.18 1299.79,709.26 C1300.79,709.34 1301.79,709.42 1302.8,709.51 C1303.8,709.59 1304.8,709.67 1305.8,709.75 C1306.8,709.83 1307.81,709.9 1308.81,709.98 C1309.81,710.06 1310.81,710.13 1311.82,710.21 C1312.82,710.28 1313.82,710.35 1314.82,710.43 C1315.82,710.5 1316.83,710.57 1317.83,710.64 C1318.83,710.71 1319.83,710.78 1320.84,710.85 C1321.84,710.92 1322.84,710.99 1323.84,711.06 C1324.84,711.12 1325.85,711.19 1326.85,711.26 C1327.85,711.32 1328.85,711.39 1329.85,711.45 C1330.86,711.52 1331.86,711.58 1332.86,711.65 C1333.86,711.71 1334.87,711.77 1335.87,711.83 C1336.87,711.9 1337.87,711.96 1338.87,712.02 C1339.88,712.08 1340.88,712.14 1341.88,712.2 C1342.88,712.26 1343.89,712.32 1344.89,712.38 C1345.89,712.44 1346.89,712.5 1347.89,712.56 C1348.9,712.62 1349.9,712.68 1350.9,712.74 C1351.9,712.8 1352.91,712.85 1353.91,712.91 C1354.91,712.97 1355.91,713.03 1356.91,713.09 C1357.92,713.14 1358.92,713.2 1359.92,713.26 C1360.92,713.32 1361.93,713.37 1362.93,713.43 C1363.93,713.49 1364.93,713.55 1365.93,713.6 C1366.94,713.66 1367.94,713.72 1368.94,713.78 C1369.94,713.84 1370.95,713.89 1371.95,713.95 C1372.95,714.01 1373.95,714.07 1374.95,714.13 C1375.96,714.19 1376.96,714.24 1377.96,714.3 C1378.96,714.36 1379.97,714.42 1380.97,714.48 C1381.97,714.54 1382.97,714.6 1383.97,714.66 C1384.98,714.72 1385.98,714.78 1386.98,714.85 C1387.98,714.91 1388.99,714.97 1389.99,715.03 C1390.99,715.09 1391.99,715.16 1392.99,715.22 C1394,715.28 1395,715.35 1396,715.41 C1397,715.48 1398.01,715.54 1399.01,715.61 C1400.01,715.67 1401.01,715.74 1402.01,715.8 C1403.02,715.87 1404.02,715.93 1405.02,716 C1406.02,716.06 1407.03,716.13 1408.03,716.2 C1409.03,716.26 1410.03,716.33 1411.03,716.39 C1412.04,716.46 1413.04,716.53 1414.04,716.59 C1415.04,716.66 1416.05,716.73 1417.05,716.79 C1418.05,716.86 1419.05,716.93 1420.05,716.99 C1421.06,717.06 1422.06,717.13 1423.06,717.19 C1424.06,717.26 1425.07,717.33 1426.07,717.39 C1427.07,717.46 1428.07,717.52 1429.07,717.59 C1430.08,717.66 1431.08,717.72 1432.08,717.79 C1433.08,717.85 1434.09,717.92 1435.09,717.98 C1436.09,718.05 1437.09,718.11 1438.09,718.17 C1439.1,718.24 1440.1,718.3 1441.1,718.37 C1442.1,718.43 1443.11,718.49 1444.11,718.55 C1445.11,718.62 1446.11,718.68 1447.11,718.74 C1448.12,718.8 1449.12,718.86 1450.12,718.92 C1451.12,718.98 1452.13,719.04 1453.13,719.1 C1454.13,719.16 1455.13,719.22 1456.13,719.28 C1457.14,719.33 1458.14,719.39 1459.14,719.45 C1460.14,719.5 1461.15,719.56 1462.15,719.61 C1463.15,719.67 1464.15,719.72 1465.15,719.78 C1466.16,719.83 1467.16,719.88 1468.16,719.93 C1469.16,719.98 1470.16,720.03 1471.17,720.08 C1472.17,720.13 1473.17,720.18 1474.17,720.23 C1475.18,720.28 1476.18,720.32 1477.18,720.37 C1478.18,720.41 1479.18,720.46 1480.19,720.5 C1481.19,720.55 1482.19,720.59 1483.19,720.63 C1484.2,720.67 1485.2,720.71 1486.2,720.75 C1487.2,720.79 1488.2,720.83 1489.21,720.86 C1490.21,720.9 1491.21,720.93 1492.21,720.97 C1493.22,721 1494.22,721.03 1495.22,721.07 C1496.22,721.1 1497.22,721.13 1498.23,721.15 C1499.23,721.18 1500.23,721.21 1501.23,721.24 C1502.24,721.26 1503.24,721.28 1504.24,721.31 C1505.24,721.33 1506.24,721.35 1507.25,721.37 C1508.25,721.39 1509.25,721.41 1510.25,721.42 C1511.26,721.44 1512.26,721.45 1513.26,721.47 C1514.26,721.48 1515.26,721.49 1516.27,721.5 C1517.27,721.51 1518.27,721.52 1519.27,721.52 C1520.28,721.53 1521.28,721.54 1522.28,721.54 C1523.28,721.54 1524.28,721.54 1525.29,721.54 C1526.29,721.54 1527.29,721.54 1528.29,721.53 C1529.3,721.52 1530.8,721.51 1531.3,721.51" fill="none" stroke="#ff0000" stroke-width="4.2" stroke-linejoin="round" />
<line x1="44" y1="140.2" x2="44" y2="216" stroke="#c00000" stroke-width="3.4" />
<line x1="44.8" y1="236.8" x2="44.8" y2="308.9" stroke="#222" stroke-width="2.3" />
<text transform="translate(64.35 78.08) scale(0.9602 1)" font-size="52.44" font-weight="700" fill="#000">100</text>
<text transform="translate(96.95 223.26) scale(1.0372 1)" font-size="49.47" font-weight="700" fill="#000">95</text>
<text transform="translate(95.72 359.47) scale(0.9570 1)" font-size="53" font-weight="700" fill="#000">90</text>
<text transform="translate(96.35 510.74) scale(0.9898 1)" font-size="51.24" font-weight="700" fill="#000">85</text>
<text transform="translate(97.11 654.51) scale(1.0229 1)" font-size="49.47" font-weight="700" fill="#000">80</text>
<text transform="translate(95.35 795.75) scale(1.0060 1)" font-size="50.18" font-weight="700" fill="#000">75</text>
<text transform="translate(95.33 939.51) scale(1.0328 1)" font-size="49.47" font-weight="700" fill="#000">70</text>
<text transform="translate(250.93 980.37) scale(0.9598 1)" font-size="52.86" font-weight="700" fill="#000">100</text>
<text transform="translate(413.92 978.67) scale(0.9596 1)" font-size="53" font-weight="700" fill="#000">200</text>
<text transform="translate(573.87 977.85) scale(0.9573 1)" font-size="52.39" font-weight="700" fill="#000">300</text>
<text transform="translate(729.74 978.18) scale(0.9665 1)" font-size="52.3" font-weight="700" fill="#000">400</text>
<text transform="translate(890.01 976.49) scale(0.9687 1)" font-size="51.31" font-weight="700" fill="#000">500</text>
<text transform="translate(1049.6 976.49) scale(0.9868 1)" font-size="51.31" font-weight="700" fill="#000">600</text>
<text transform="translate(1206.24 976.49) scale(0.9899 1)" font-size="51.31" font-weight="700" fill="#000">700</text>
<text transform="translate(1365.45 978.18) scale(0.9766 1)" font-size="51.87" font-weight="700" fill="#000">800</text>
<text transform="translate(1520.34 978.18) scale(0.9672 1)" font-size="51.87" font-weight="700" fill="#000">900</text>
<text transform="translate(1583.86 155.69) scale(1.0066 1)" font-size="50.74" font-weight="700" fill="#000">0.4</text>
<text transform="translate(1582.56 303.17) scale(0.9709 1)" font-size="52.58" font-weight="700" fill="#000">0.2</text>
<text transform="translate(1580.26 445.88) scale(0.9857 1)" font-size="51.73" font-weight="700" fill="#000">0.0</text>
<text transform="translate(1602.27 589.07) scale(0.9559 1)" font-size="53" font-weight="700" fill="#000">0.2</text>
<text transform="translate(1577.68 588.53) scale(1.1433 1)" font-size="53" font-weight="700" fill="#000">-</text>
<text transform="translate(1602.01 733.7) scale(0.9956 1)" font-size="50.04" font-weight="700" fill="#000">0.4</text>
<text transform="translate(1578.62 730.78) scale(1.1209 1)" font-size="53" font-weight="700" fill="#000">-</text>
<text transform="translate(1609.92 878.36) scale(0.9648 1)" font-size="53.99" font-weight="700" fill="#000">0.6</text>
<text transform="translate(1582.62 873.78) scale(1.1209 1)" font-size="53" font-weight="700" fill="#000">-</text>
<text transform="translate(703.79 1073.43) scale(1.0035 1)" font-size="50.94" font-weight="700" fill="#000">Temperature (</text>
<text transform="translate(1042.9 1059.64) scale(1.0379 1)" font-size="36.18" font-weight="700" fill="#000">O</text>
<text transform="translate(1075 1073.34) scale(0.9744 1)" font-size="51.37" font-weight="700" fill="#000">C)</text>
<text transform="translate(56.07 654.4) rotate(-90) scale(1.0005 1)" font-size="50.99" font-weight="700" fill="#000">Weight % (%)</text>
<text transform="translate(1714.3 810.83) rotate(-90) scale(1.0085 1)" font-size="50.35" font-weight="700" fill="#000">Derivative weight % (%/min)</text>
<text transform="translate(1763.63 516.84) scale(0.9230 1)" font-size="96.44" font-weight="700" fill="#000">a</text>
<text transform="translate(171.06 188.19) scale(0.7698 1)" font-size="30.61" font-weight="400" fill="#1c1c28" stroke="#1c1c28" stroke-width="0.7">Delta Y = 6.664 %</text>
<text transform="translate(389.36 424.99) scale(0.7589 1)" font-size="31.02" font-weight="400" fill="#1c1c28" stroke="#1c1c28" stroke-width="0.7">Delta Y = 9.870 %</text>
<text transform="translate(1219.56 676.19) scale(0.7466 1)" font-size="31.43" font-weight="400" fill="#1c1c28" stroke="#1c1c28" stroke-width="0.7">Delta Y = 6.414 %</text>
<line x1="171.2" y1="1022.3" x2="171.2" y2="1848" stroke="#000" stroke-width="2.2" />
<line x1="171.2" y1="1841" x2="1574.8" y2="1841" stroke="#000" stroke-width="2.4" />
<line x1="1574.8" y1="1022.3" x2="1574.8" y2="1848" stroke="#000" stroke-width="2.2" />
<line x1="165.2" y1="1022.3" x2="171.2" y2="1022.3" stroke="#000" stroke-width="2.4" />
<line x1="165.2" y1="1040.8" x2="171.2" y2="1040.8" stroke="#000" stroke-width="2.4" />
<line x1="165.2" y1="1174.2" x2="171.2" y2="1174.2" stroke="#000" stroke-width="2.4" />
<line x1="165.2" y1="1307.6" x2="171.2" y2="1307.6" stroke="#000" stroke-width="2.4" />
<line x1="165.2" y1="1441" x2="171.2" y2="1441" stroke="#000" stroke-width="2.4" />
<line x1="165.2" y1="1574.4" x2="171.2" y2="1574.4" stroke="#000" stroke-width="2.4" />
<line x1="165.2" y1="1707.8" x2="171.2" y2="1707.8" stroke="#000" stroke-width="2.4" />
<line x1="165.2" y1="1841.2" x2="171.2" y2="1841.2" stroke="#000" stroke-width="2.4" />
<line x1="238.15" y1="1841" x2="238.15" y2="1848" stroke="#000" stroke-width="2.2" />
<line x1="352.2" y1="1841" x2="352.2" y2="1848" stroke="#000" stroke-width="2.2" />
<line x1="466.25" y1="1841" x2="466.25" y2="1848" stroke="#000" stroke-width="2.2" />
<line x1="580.3" y1="1841" x2="580.3" y2="1848" stroke="#000" stroke-width="2.2" />
<line x1="694.35" y1="1841" x2="694.35" y2="1848" stroke="#000" stroke-width="2.2" />
<line x1="808.4" y1="1841" x2="808.4" y2="1848" stroke="#000" stroke-width="2.2" />
<line x1="922.45" y1="1841" x2="922.45" y2="1848" stroke="#000" stroke-width="2.2" />
<line x1="1036.5" y1="1841" x2="1036.5" y2="1848" stroke="#000" stroke-width="2.2" />
<line x1="1150.55" y1="1841" x2="1150.55" y2="1848" stroke="#000" stroke-width="2.2" />
<line x1="1264.6" y1="1841" x2="1264.6" y2="1848" stroke="#000" stroke-width="2.2" />
<line x1="1378.65" y1="1841" x2="1378.65" y2="1848" stroke="#000" stroke-width="2.2" />
<line x1="1492.7" y1="1841" x2="1492.7" y2="1848" stroke="#000" stroke-width="2.2" />
<line x1="1574.8" y1="1022.3" x2="1581.3" y2="1022.3" stroke="#000" stroke-width="2.4" />
<line x1="1574.8" y1="1079.42" x2="1581.3" y2="1079.42" stroke="#000" stroke-width="2.2" />
<line x1="1574.8" y1="1146.76" x2="1581.3" y2="1146.76" stroke="#000" stroke-width="2.2" />
<line x1="1574.8" y1="1214.1" x2="1581.3" y2="1214.1" stroke="#000" stroke-width="2.2" />
<line x1="1574.8" y1="1281.44" x2="1581.3" y2="1281.44" stroke="#000" stroke-width="2.2" />
<line x1="1574.8" y1="1348.78" x2="1581.3" y2="1348.78" stroke="#000" stroke-width="2.2" />
<line x1="1574.8" y1="1416.12" x2="1581.3" y2="1416.12" stroke="#000" stroke-width="2.2" />
<line x1="1574.8" y1="1483.46" x2="1581.3" y2="1483.46" stroke="#000" stroke-width="2.2" />
<line x1="1574.8" y1="1550.8" x2="1581.3" y2="1550.8" stroke="#000" stroke-width="2.2" />
<line x1="1574.8" y1="1618.14" x2="1581.3" y2="1618.14" stroke="#000" stroke-width="2.2" />
<line x1="1574.8" y1="1685.48" x2="1581.3" y2="1685.48" stroke="#000" stroke-width="2.2" />
<line x1="1574.8" y1="1752.82" x2="1581.3" y2="1752.82" stroke="#000" stroke-width="2.2" />
<line x1="1574.8" y1="1820.16" x2="1581.3" y2="1820.16" stroke="#000" stroke-width="2.2" />
<line x1="172.3" y1="1841" x2="172.3" y2="1236.5" stroke="#ff0000" stroke-width="2" />
<path d="M172.3,1236.5 L174,1238.6 L177.01,1238.75 L180.01,1238.87 L183.02,1238.96 L186.02,1239.02 L189.03,1239.06 L192.03,1239.07 L195.04,1239.06 L198.04,1239.02 L201.05,1238.96 L204.05,1238.88 L207.06,1238.77 L210.07,1238.65 L213.07,1238.5 L216.08,1238.34 L219.08,1238.16 L222.09,1237.97 L225.09,1237.75 L228.1,1237.53 L231.1,1237.29 L234.11,1237.04 L237.11,1236.78 L240.12,1236.5 L243.13,1236.22 L246.13,1235.93 L249.14,1235.63 L252.14,1235.32 L255.15,1235.01 L258.15,1234.69 L261.16,1234.37 L264.16,1234.05 L267.17,1233.72 L270.17,1233.39 L273.18,1233.06 L276.19,1232.72 L279.19,1232.39 L282.2,1232.05 L285.2,1231.71 L288.21,1231.37 L291.21,1231.04 L294.22,1230.7 L297.22,1230.36 L300.23,1230.03 L303.24,1229.7 L306.24,1229.37 L309.25,1229.04 L312.25,1228.72 L315.26,1228.4 L318.26,1228.09 L321.27,1227.78 L324.27,1227.48 L327.28,1227.18 L330.28,1226.89 L333.29,1226.6 L336.3,1226.33 L339.3,1226.06 L342.31,1225.79 L345.31,1225.54 L348.32,1225.3 L351.32,1225.06 L354.33,1224.84 L357.33,1224.62 L360.34,1224.42 L363.34,1224.23 L366.35,1224.05 L369.36,1223.88 L372.36,1223.72 L375.37,1223.57 L378.37,1223.43 L381.38,1223.3 L384.38,1223.18 L387.39,1223.07 L390.39,1222.97 L393.4,1222.88 L396.4,1222.8 L399.41,1222.72 L402.42,1222.66 L405.42,1222.6 L408.43,1222.55 L411.43,1222.51 L414.44,1222.48 L417.44,1222.45 L420.45,1222.43 L423.45,1222.42 L426.46,1222.41 L429.46,1222.41 L432.47,1222.42 L435.48,1222.43 L438.48,1222.45 L441.49,1222.48 L444.49,1222.51 L447.5,1222.54 L450.5,1222.59 L453.51,1222.63 L456.51,1222.68 L459.52,1222.73 L462.52,1222.79 L465.53,1222.86 L468.54,1222.92 L471.54,1222.99 L474.55,1223.06 L477.55,1223.14 L480.56,1223.22 L483.56,1223.3 L486.57,1223.38 L489.57,1223.47 L492.58,1223.56 L495.58,1223.65 L498.59,1223.74 L501.6,1223.83 L504.6,1223.92 L507.61,1224.02 L510.61,1224.11 L513.62,1224.21 L516.62,1224.31 L519.63,1224.4 L522.63,1224.5 L525.64,1224.59 L528.65,1224.69 L531.65,1224.78 L534.66,1224.87 L537.66,1224.97 L540.67,1225.05 L543.67,1225.14 L546.68,1225.23 L549.68,1225.31 L552.69,1225.4 L555.69,1225.47 L558.7,1225.55 L561.71,1225.62 L564.71,1225.69 L567.72,1225.76 L570.72,1225.82 L573.73,1225.88 L576.73,1225.94 L579.74,1226 L582.74,1226.05 L585.75,1226.1 L588.75,1226.15 L591.76,1226.2 L594.77,1226.25 L597.77,1226.31 L600.78,1226.36 L603.78,1226.41 L606.79,1226.47 L609.79,1226.53 L612.8,1226.59 L615.8,1226.65 L618.81,1226.72 L621.81,1226.79 L624.82,1226.86 L627.83,1226.94 L630.83,1227.03 L633.84,1227.11 L636.84,1227.2 L639.85,1227.3 L642.85,1227.4 L645.86,1227.5 L648.86,1227.6 L651.87,1227.71 L654.87,1227.82 L657.88,1227.93 L660.89,1228.05 L663.89,1228.17 L666.9,1228.29 L669.9,1228.41 L672.91,1228.54 L675.91,1228.67 L678.92,1228.8 L681.92,1228.93 L684.93,1229.07 L687.93,1229.21 L690.94,1229.35 L693.95,1229.49 L696.95,1229.63 L699.96,1229.78 L702.96,1229.92 L705.97,1230.07 L708.97,1230.22 L711.98,1230.37 L714.98,1230.52 L717.99,1230.68 L720.99,1230.83 L724,1230.98 L727.01,1231.14 L730.01,1231.29 L733.02,1231.45 L736.02,1231.61 L739.03,1231.76 L742.03,1231.92 L745.04,1232.08 L748.04,1232.24 L751.05,1232.4 L754.06,1232.55 L757.06,1232.71 L760.07,1232.87 L763.07,1233.02 L766.08,1233.18 L769.08,1233.34 L772.09,1233.49 L775.09,1233.65 L778.1,1233.8 L781.1,1233.95 L784.11,1234.1 L787.12,1234.25 L790.12,1234.4 L793.13,1234.55 L796.13,1234.69 L799.14,1234.84 L802.14,1234.98 L805.15,1235.12 L808.15,1235.26 L811.16,1235.4 L814.16,1235.53 L817.17,1235.67 L820.18,1235.8 L823.18,1235.93 L826.19,1236.05 L829.19,1236.18 L832.2,1236.3 L835.2,1236.42 L838.21,1236.53 L841.21,1236.64 L844.22,1236.75 L847.22,1236.86 L850.23,1236.96 L853.24,1237.06 L856.24,1237.16 L859.25,1237.25 L862.25,1237.34 L865.26,1237.43 L868.26,1237.51 L871.27,1237.59 L874.27,1237.66 L877.28,1237.73 L880.28,1237.8 L883.29,1237.86 L886.3,1237.92 L889.3,1237.97 L892.31,1238.02 L895.31,1238.06 L898.32,1238.1 L901.32,1238.14 L904.33,1238.17 L907.33,1238.19 L910.34,1238.21 L913.34,1238.22 L916.35,1238.23 L919.36,1238.24 L922.36,1238.23 L925.37,1238.23 L928.37,1238.21 L931.38,1238.19 L934.38,1238.17 L937.39,1238.14 L940.39,1238.1 L943.4,1238.06 L946.41,1238.01 L949.41,1237.95 L952.42,1237.89 L955.42,1237.82 L958.43,1237.74 L961.43,1237.66 L964.44,1237.58 L967.44,1237.48 L970.45,1237.39 L973.45,1237.28 L976.46,1237.17 L979.47,1237.06 L982.47,1236.94 L985.48,1236.82 L988.48,1236.7 L991.49,1236.57 L994.49,1236.43 L997.5,1236.29 L1000.5,1236.15 L1003.51,1236.01 L1006.51,1235.86 L1009.52,1235.71 L1012.53,1235.56 L1015.53,1235.4 L1018.54,1235.24 L1021.54,1235.08 L1024.55,1234.92 L1027.55,1234.75 L1030.56,1234.59 L1033.56,1234.42 L1036.57,1234.25 L1039.57,1234.08 L1042.58,1233.91 L1045.59,1233.74 L1048.59,1233.57 L1051.6,1233.4 L1054.6,1233.22 L1057.61,1233.05 L1060.61,1232.88 L1063.62,1232.71 L1066.62,1232.54 L1069.63,1232.37 L1072.63,1232.2 L1075.64,1232.03 L1078.65,1231.86 L1081.65,1231.7 L1084.66,1231.54 L1087.66,1231.37 L1090.67,1231.22 L1093.67,1231.06 L1096.68,1230.91 L1099.68,1230.75 L1102.69,1230.61 L1105.69,1230.46 L1108.7,1230.32 L1111.71,1230.18 L1114.71,1230.04 L1117.72,1229.91 L1120.72,1229.77 L1123.73,1229.64 L1126.73,1229.52 L1129.74,1229.39 L1132.74,1229.27 L1135.75,1229.15 L1138.75,1229.03 L1141.76,1228.92 L1144.77,1228.81 L1147.77,1228.7 L1150.78,1228.59 L1153.78,1228.48 L1156.79,1228.38 L1159.79,1228.28 L1162.8,1228.18 L1165.8,1228.08 L1168.81,1227.98 L1171.82,1227.89 L1174.82,1227.8 L1177.83,1227.71 L1180.83,1227.62 L1183.84,1227.53 L1186.84,1227.44 L1189.85,1227.36 L1192.85,1227.28 L1195.86,1227.2 L1198.86,1227.12 L1201.87,1227.04 L1204.88,1226.96 L1207.88,1226.88 L1210.89,1226.81 L1213.89,1226.74 L1216.9,1226.66 L1219.9,1226.59 L1222.91,1226.52 L1225.91,1226.45 L1228.92,1226.39 L1231.92,1226.32 L1234.93,1226.25 L1237.94,1226.19 L1240.94,1226.12 L1243.95,1226.06 L1246.95,1225.99 L1249.96,1225.93 L1252.96,1225.87 L1255.97,1225.81 L1258.97,1225.75 L1261.98,1225.69 L1264.98,1225.63 L1267.99,1225.57 L1271,1225.51 L1274,1225.46 L1277.01,1225.4 L1280.01,1225.35 L1283.02,1225.29 L1286.02,1225.24 L1289.03,1225.19 L1292.03,1225.13 L1295.04,1225.08 L1298.04,1225.03 L1301.05,1224.98 L1304.06,1224.93 L1307.06,1224.89 L1310.07,1224.84 L1313.07,1224.79 L1316.08,1224.75 L1319.08,1224.7 L1322.09,1224.65 L1325.09,1224.61 L1328.1,1224.57 L1331.1,1224.52 L1334.11,1224.48 L1337.12,1224.44 L1340.12,1224.4 L1343.13,1224.36 L1346.13,1224.32 L1349.14,1224.28 L1352.14,1224.25 L1355.15,1224.21 L1358.15,1224.17 L1361.16,1224.14 L1364.16,1224.1 L1367.17,1224.07 L1370.18,1224.03 L1373.18,1224 L1376.19,1223.97 L1379.19,1223.94 L1382.2,1223.91 L1385.2,1223.88 L1388.21,1223.85 L1391.21,1223.82 L1394.22,1223.79 L1397.23,1223.76 L1400.23,1223.73 L1403.24,1223.71 L1406.24,1223.68 L1409.25,1223.66 L1412.25,1223.63 L1415.26,1223.61 L1418.26,1223.59 L1421.27,1223.56 L1424.27,1223.54 L1427.28,1223.52 L1430.29,1223.5 L1433.29,1223.48 L1436.3,1223.46 L1439.3,1223.44 L1442.31,1223.42 L1445.31,1223.41 L1448.32,1223.39 L1451.32,1223.37 L1454.33,1223.36 L1457.33,1223.34 L1460.34,1223.33 L1463.35,1223.32 L1466.35,1223.3 L1469.36,1223.29 L1472.36,1223.28 L1475.37,1223.27 L1478.37,1223.26 L1481.38,1223.25 L1484.38,1223.24 L1487.39,1223.23 L1490.39,1223.22 L1493.4,1223.21" fill="none" stroke="#ff0000" stroke-width="2.2" stroke-linejoin="round" />
<line x1="1494.4" y1="1224.2" x2="1494.4" y2="1022" stroke="#ff0000" stroke-width="2" />
<line x1="174.5" y1="1045.7" x2="467" y2="1045.7" stroke="#000" stroke-width="3.6" />
<line x1="175" y1="1026" x2="175" y2="1066.2" stroke="#000" stroke-width="2" />
<line x1="175.4" y1="1186.3" x2="1268.2" y2="1186.3" stroke="#000" stroke-width="3.6" />
<line x1="466.4" y1="1166.9" x2="466.4" y2="1205.7" stroke="#000" stroke-width="2" />
<line x1="466.3" y1="1648.9" x2="1495" y2="1648.9" stroke="#000" stroke-width="3.6" />
<line x1="1267.5" y1="1629.3" x2="1267.5" y2="1668" stroke="#000" stroke-width="2" />
<line x1="1267.5" y1="1733.9" x2="1495" y2="1733.9" stroke="#000" stroke-width="3.6" />
<line x1="1494.2" y1="1714.5" x2="1494.2" y2="1753.8" stroke="#000" stroke-width="2" />
<path d="M172,1022 L172.4,1035 L173.2,1046.3" fill="none" stroke="#ff0000" stroke-width="3.9" stroke-linejoin="round" />
<path d="M173.2,1045.74 C173.7,1046.25 175.2,1047.78 176.2,1048.78 C177.2,1049.78 178.2,1050.77 179.2,1051.76 C180.2,1052.74 181.2,1053.72 182.2,1054.69 C183.2,1055.65 184.2,1056.61 185.2,1057.56 C186.2,1058.52 187.2,1059.46 188.2,1060.39 C189.2,1061.33 190.2,1062.25 191.2,1063.17 C192.2,1064.09 193.2,1065 194.2,1065.9 C195.2,1066.8 196.2,1067.7 197.2,1068.58 C198.2,1069.47 199.2,1070.35 200.2,1071.22 C201.2,1072.09 202.2,1072.95 203.2,1073.8 C204.2,1074.66 205.2,1075.51 206.2,1076.35 C207.2,1077.19 208.2,1078.02 209.2,1078.84 C210.2,1079.67 211.2,1080.48 212.2,1081.29 C213.2,1082.1 214.2,1082.9 215.2,1083.7 C216.2,1084.49 217.2,1085.28 218.2,1086.06 C219.2,1086.84 220.2,1087.62 221.2,1088.38 C222.2,1089.15 223.2,1089.91 224.2,1090.66 C225.2,1091.41 226.2,1092.16 227.2,1092.9 C228.2,1093.64 229.2,1094.37 230.2,1095.09 C231.2,1095.82 232.2,1096.54 233.2,1097.25 C234.2,1097.96 235.2,1098.67 236.2,1099.37 C237.2,1100.06 238.2,1100.76 239.2,1101.44 C240.2,1102.13 241.2,1102.81 242.2,1103.48 C243.2,1104.15 244.2,1104.82 245.2,1105.48 C246.2,1106.14 247.2,1106.8 248.2,1107.45 C249.2,1108.09 250.2,1108.74 251.2,1109.37 C252.2,1110.01 253.2,1110.64 254.2,1111.27 C255.2,1111.89 256.2,1112.51 257.2,1113.12 C258.2,1113.74 259.2,1114.34 260.2,1114.95 C261.2,1115.55 262.2,1116.14 263.2,1116.73 C264.2,1117.33 265.2,1117.91 266.2,1118.49 C267.2,1119.07 268.2,1119.65 269.2,1120.21 C270.2,1120.78 271.2,1121.35 272.2,1121.91 C273.2,1122.47 274.2,1123.02 275.2,1123.57 C276.2,1124.12 277.2,1124.66 278.2,1125.2 C279.2,1125.74 280.2,1126.27 281.2,1126.8 C282.2,1127.33 283.2,1127.85 284.2,1128.37 C285.2,1128.89 286.2,1129.4 287.2,1129.91 C288.2,1130.42 289.2,1130.93 290.2,1131.43 C291.2,1131.93 292.2,1132.43 293.2,1132.92 C294.2,1133.41 295.2,1133.9 296.2,1134.38 C297.2,1134.86 298.2,1135.34 299.2,1135.82 C300.2,1136.29 301.2,1136.76 302.2,1137.23 C303.2,1137.69 304.2,1138.16 305.2,1138.61 C306.2,1139.07 307.2,1139.53 308.2,1139.98 C309.2,1140.43 310.2,1140.87 311.2,1141.32 C312.2,1141.76 313.2,1142.2 314.2,1142.63 C315.2,1143.07 316.2,1143.5 317.2,1143.93 C318.2,1144.36 319.2,1144.78 320.2,1145.2 C321.2,1145.62 322.2,1146.04 323.2,1146.46 C324.2,1146.87 325.2,1147.28 326.2,1147.69 C327.2,1148.1 328.2,1148.5 329.2,1148.9 C330.2,1149.3 331.2,1149.7 332.2,1150.1 C333.2,1150.49 334.2,1150.88 335.2,1151.27 C336.2,1151.66 337.2,1152.04 338.2,1152.42 C339.2,1152.8 340.2,1153.18 341.2,1153.56 C342.2,1153.93 343.2,1154.3 344.2,1154.67 C345.2,1155.04 346.2,1155.41 347.2,1155.77 C348.2,1156.13 349.2,1156.49 350.2,1156.84 C351.2,1157.2 352.2,1157.55 353.2,1157.9 C354.2,1158.25 355.2,1158.59 356.2,1158.94 C357.2,1159.28 358.2,1159.62 359.2,1159.96 C360.2,1160.29 361.2,1160.62 362.2,1160.96 C363.2,1161.29 364.2,1161.61 365.2,1161.94 C366.2,1162.26 367.2,1162.58 368.2,1162.9 C369.2,1163.22 370.2,1163.53 371.2,1163.84 C372.2,1164.15 373.2,1164.46 374.2,1164.77 C375.2,1165.07 376.2,1165.37 377.2,1165.67 C378.2,1165.97 379.2,1166.27 380.2,1166.56 C381.2,1166.86 382.2,1167.15 383.2,1167.43 C384.2,1167.72 385.2,1168 386.2,1168.29 C387.2,1168.57 388.2,1168.85 389.2,1169.12 C390.2,1169.4 391.2,1169.67 392.2,1169.94 C393.2,1170.21 394.2,1170.47 395.2,1170.74 C396.2,1171 397.2,1171.26 398.2,1171.52 C399.2,1171.78 400.2,1172.03 401.2,1172.28 C402.2,1172.54 403.2,1172.78 404.2,1173.03 C405.2,1173.28 406.2,1173.52 407.2,1173.76 C408.2,1174 409.2,1174.24 410.2,1174.47 C411.2,1174.71 412.2,1174.94 413.2,1175.17 C414.2,1175.4 415.2,1175.63 416.2,1175.85 C417.2,1176.08 418.2,1176.3 419.2,1176.52 C420.2,1176.75 421.2,1176.97 422.2,1177.19 C423.2,1177.41 424.2,1177.62 425.2,1177.84 C426.2,1178.06 427.2,1178.28 428.2,1178.49 C429.2,1178.71 430.2,1178.92 431.2,1179.14 C432.2,1179.36 433.2,1179.57 434.2,1179.79 C435.2,1180 436.2,1180.22 437.2,1180.44 C438.2,1180.65 439.2,1180.87 440.2,1181.09 C441.2,1181.31 442.2,1181.53 443.2,1181.75 C444.2,1181.97 445.2,1182.19 446.2,1182.41 C447.2,1182.64 448.2,1182.86 449.2,1183.09 C450.2,1183.32 451.2,1183.55 452.2,1183.78 C453.2,1184.01 454.2,1184.25 455.2,1184.48 C456.2,1184.72 457.2,1184.96 458.2,1185.21 C459.2,1185.45 460.2,1185.7 461.2,1185.95 C462.2,1186.2 463.2,1186.45 464.2,1186.71 C465.2,1186.97 466.2,1187.23 467.2,1187.5 C468.2,1187.76 469.2,1188.03 470.2,1188.31 C471.2,1188.58 472.2,1188.86 473.2,1189.15 C474.2,1189.43 475.2,1189.72 476.2,1190.02 C477.2,1190.31 478.2,1190.61 479.2,1190.92 C480.2,1191.23 481.2,1191.54 482.2,1191.86 C483.2,1192.17 484.2,1192.5 485.2,1192.83 C486.2,1193.16 487.2,1193.49 488.2,1193.83 C489.2,1194.17 490.2,1194.51 491.2,1194.86 C492.2,1195.21 493.2,1195.57 494.2,1195.93 C495.2,1196.29 496.2,1196.65 497.2,1197.02 C498.2,1197.38 499.2,1197.76 500.2,1198.13 C501.2,1198.51 502.2,1198.89 503.2,1199.27 C504.2,1199.66 505.2,1200.05 506.2,1200.44 C507.2,1200.83 508.2,1201.22 509.2,1201.62 C510.2,1202.02 511.2,1202.42 512.2,1202.83 C513.2,1203.23 514.2,1203.64 515.2,1204.05 C516.2,1204.46 517.2,1204.87 518.2,1205.29 C519.2,1205.7 520.2,1206.12 521.2,1206.54 C522.2,1206.96 523.2,1207.38 524.2,1207.81 C525.2,1208.23 526.2,1208.66 527.2,1209.08 C528.2,1209.51 529.2,1209.94 530.2,1210.37 C531.2,1210.8 532.2,1211.23 533.2,1211.67 C534.2,1212.1 535.2,1212.53 536.2,1212.97 C537.2,1213.4 538.2,1213.84 539.2,1214.27 C540.2,1214.71 541.2,1215.15 542.2,1215.58 C543.2,1216.02 544.2,1216.45 545.2,1216.89 C546.2,1217.32 547.2,1217.76 548.2,1218.19 C549.2,1218.62 550.2,1219.06 551.2,1219.49 C552.2,1219.92 553.2,1220.35 554.2,1220.77 C555.2,1221.2 556.2,1221.63 557.2,1222.05 C558.2,1222.47 559.2,1222.9 560.2,1223.31 C561.2,1223.73 562.2,1224.15 563.2,1224.56 C564.2,1224.97 565.2,1225.39 566.2,1225.79 C567.2,1226.2 568.2,1226.61 569.2,1227.01 C570.2,1227.42 571.2,1227.82 572.2,1228.22 C573.2,1228.62 574.2,1229.02 575.2,1229.41 C576.2,1229.81 577.2,1230.2 578.2,1230.6 C579.2,1230.99 580.2,1231.38 581.2,1231.77 C582.2,1232.16 583.2,1232.55 584.2,1232.94 C585.2,1233.32 586.2,1233.71 587.2,1234.1 C588.2,1234.48 589.2,1234.86 590.2,1235.25 C591.2,1235.63 592.2,1236.01 593.2,1236.39 C594.2,1236.78 595.2,1237.16 596.2,1237.54 C597.2,1237.92 598.2,1238.3 599.2,1238.68 C600.2,1239.05 601.2,1239.43 602.2,1239.81 C603.2,1240.19 604.2,1240.57 605.2,1240.95 C606.2,1241.33 607.2,1241.71 608.2,1242.08 C609.2,1242.46 610.2,1242.84 611.2,1243.22 C612.2,1243.6 613.2,1243.98 614.2,1244.36 C615.2,1244.74 616.2,1245.12 617.2,1245.5 C618.2,1245.88 619.2,1246.27 620.2,1246.65 C621.2,1247.03 622.2,1247.42 623.2,1247.8 C624.2,1248.18 625.2,1248.57 626.2,1248.96 C627.2,1249.35 628.2,1249.73 629.2,1250.12 C630.2,1250.51 631.2,1250.9 632.2,1251.3 C633.2,1251.69 634.2,1252.08 635.2,1252.48 C636.2,1252.88 637.2,1253.27 638.2,1253.67 C639.2,1254.07 640.2,1254.48 641.2,1254.88 C642.2,1255.28 643.2,1255.69 644.2,1256.1 C645.2,1256.51 646.2,1256.92 647.2,1257.33 C648.2,1257.74 649.2,1258.16 650.2,1258.57 C651.2,1258.99 652.2,1259.41 653.2,1259.84 C654.2,1260.26 655.2,1260.68 656.2,1261.11 C657.2,1261.54 658.2,1261.97 659.2,1262.4 C660.2,1262.84 661.2,1263.27 662.2,1263.71 C663.2,1264.15 664.2,1264.59 665.2,1265.03 C666.2,1265.47 667.2,1265.92 668.2,1266.37 C669.2,1266.81 670.2,1267.27 671.2,1267.72 C672.2,1268.17 673.2,1268.63 674.2,1269.09 C675.2,1269.54 676.2,1270 677.2,1270.47 C678.2,1270.93 679.2,1271.4 680.2,1271.87 C681.2,1272.34 682.2,1272.81 683.2,1273.28 C684.2,1273.75 685.2,1274.23 686.2,1274.71 C687.2,1275.19 688.2,1275.67 689.2,1276.16 C690.2,1276.64 691.2,1277.13 692.2,1277.62 C693.2,1278.11 694.2,1278.6 695.2,1279.1 C696.2,1279.59 697.2,1280.09 698.2,1280.59 C699.2,1281.09 700.2,1281.59 701.2,1282.1 C702.2,1282.61 703.2,1283.11 704.2,1283.63 C705.2,1284.14 706.2,1284.65 707.2,1285.17 C708.2,1285.69 709.2,1286.21 710.2,1286.73 C711.2,1287.25 712.2,1287.78 713.2,1288.3 C714.2,1288.83 715.2,1289.36 716.2,1289.9 C717.2,1290.43 718.2,1290.97 719.2,1291.51 C720.2,1292.05 721.2,1292.59 722.2,1293.13 C723.2,1293.68 724.2,1294.22 725.2,1294.78 C726.2,1295.33 727.2,1295.88 728.2,1296.44 C729.2,1296.99 730.2,1297.55 731.2,1298.11 C732.2,1298.67 733.2,1299.24 734.2,1299.81 C735.2,1300.38 736.2,1300.95 737.2,1301.52 C738.2,1302.09 739.2,1302.67 740.2,1303.25 C741.2,1303.83 742.2,1304.41 743.2,1305 C744.2,1305.58 745.2,1306.17 746.2,1306.76 C747.2,1307.35 748.2,1307.94 749.2,1308.54 C750.2,1309.14 751.2,1309.74 752.2,1310.34 C753.2,1310.94 754.2,1311.55 755.2,1312.16 C756.2,1312.77 757.2,1313.38 758.2,1313.99 C759.2,1314.61 760.2,1315.23 761.2,1315.85 C762.2,1316.47 763.2,1317.09 764.2,1317.72 C765.2,1318.35 766.2,1318.98 767.2,1319.61 C768.2,1320.24 769.2,1320.88 770.2,1321.52 C771.2,1322.16 772.2,1322.8 773.2,1323.44 C774.2,1324.09 775.2,1324.74 776.2,1325.39 C777.2,1326.04 778.2,1326.7 779.2,1327.35 C780.2,1328.01 781.2,1328.67 782.2,1329.34 C783.2,1330 784.2,1330.67 785.2,1331.34 C786.2,1332.01 787.2,1332.68 788.2,1333.36 C789.2,1334.03 790.2,1334.71 791.2,1335.39 C792.2,1336.08 793.2,1336.76 794.2,1337.45 C795.2,1338.14 796.2,1338.83 797.2,1339.53 C798.2,1340.22 799.2,1340.92 800.2,1341.62 C801.2,1342.33 802.2,1343.03 803.2,1343.74 C804.2,1344.45 805.2,1345.16 806.2,1345.87 C807.2,1346.59 808.2,1347.31 809.2,1348.03 C810.2,1348.75 811.2,1349.47 812.2,1350.2 C813.2,1350.93 814.2,1351.66 815.2,1352.4 C816.2,1353.13 817.2,1353.87 818.2,1354.61 C819.2,1355.35 820.2,1356.09 821.2,1356.84 C822.2,1357.59 823.2,1358.34 824.2,1359.09 C825.2,1359.85 826.2,1360.61 827.2,1361.37 C828.2,1362.13 829.2,1362.89 830.2,1363.66 C831.2,1364.43 832.2,1365.2 833.2,1365.97 C834.2,1366.75 835.2,1367.52 836.2,1368.31 C837.2,1369.09 838.2,1369.87 839.2,1370.66 C840.2,1371.45 841.2,1372.24 842.2,1373.03 C843.2,1373.83 844.2,1374.63 845.2,1375.43 C846.2,1376.23 847.2,1377.03 848.2,1377.84 C849.2,1378.65 850.2,1379.46 851.2,1380.27 C852.2,1381.09 853.2,1381.9 854.2,1382.72 C855.2,1383.54 856.2,1384.37 857.2,1385.19 C858.2,1386.02 859.2,1386.85 860.2,1387.68 C861.2,1388.51 862.2,1389.34 863.2,1390.18 C864.2,1391.02 865.2,1391.86 866.2,1392.7 C867.2,1393.54 868.2,1394.38 869.2,1395.23 C870.2,1396.08 871.2,1396.93 872.2,1397.78 C873.2,1398.63 874.2,1399.48 875.2,1400.34 C876.2,1401.19 877.2,1402.05 878.2,1402.91 C879.2,1403.77 880.2,1404.63 881.2,1405.5 C882.2,1406.36 883.2,1407.23 884.2,1408.09 C885.2,1408.96 886.2,1409.83 887.2,1410.7 C888.2,1411.57 889.2,1412.44 890.2,1413.32 C891.2,1414.19 892.2,1415.07 893.2,1415.95 C894.2,1416.82 895.2,1417.7 896.2,1418.58 C897.2,1419.46 898.2,1420.34 899.2,1421.23 C900.2,1422.11 901.2,1422.99 902.2,1423.88 C903.2,1424.76 904.2,1425.65 905.2,1426.54 C906.2,1427.43 907.2,1428.31 908.2,1429.2 C909.2,1430.09 910.2,1430.98 911.2,1431.87 C912.2,1432.76 913.2,1433.66 914.2,1434.55 C915.2,1435.44 916.2,1436.33 917.2,1437.23 C918.2,1438.12 919.2,1439.02 920.2,1439.91 C921.2,1440.81 922.2,1441.7 923.2,1442.6 C924.2,1443.49 925.2,1444.39 926.2,1445.28 C927.2,1446.18 928.2,1447.08 929.2,1447.97 C930.2,1448.87 931.2,1449.77 932.2,1450.66 C933.2,1451.56 934.2,1452.46 935.2,1453.35 C936.2,1454.25 937.2,1455.15 938.2,1456.04 C939.2,1456.94 940.2,1457.83 941.2,1458.73 C942.2,1459.63 943.2,1460.52 944.2,1461.42 C945.2,1462.31 946.2,1463.2 947.2,1464.1 C948.2,1464.99 949.2,1465.89 950.2,1466.78 C951.2,1467.67 952.2,1468.56 953.2,1469.45 C954.2,1470.35 955.2,1471.24 956.2,1472.13 C957.2,1473.02 958.2,1473.9 959.2,1474.79 C960.2,1475.68 961.2,1476.56 962.2,1477.45 C963.2,1478.33 964.2,1479.21 965.2,1480.09 C966.2,1480.97 967.2,1481.84 968.2,1482.71 C969.2,1483.59 970.2,1484.46 971.2,1485.32 C972.2,1486.19 973.2,1487.05 974.2,1487.91 C975.2,1488.77 976.2,1489.62 977.2,1490.47 C978.2,1491.32 979.2,1492.16 980.2,1493 C981.2,1493.84 982.2,1494.68 983.2,1495.5 C984.2,1496.33 985.2,1497.16 986.2,1497.97 C987.2,1498.79 988.2,1499.61 989.2,1500.41 C990.2,1501.22 991.2,1502.02 992.2,1502.82 C993.2,1503.62 994.2,1504.41 995.2,1505.2 C996.2,1505.99 997.2,1506.77 998.2,1507.54 C999.2,1508.32 1000.2,1509.09 1001.2,1509.86 C1002.2,1510.63 1003.2,1511.39 1004.2,1512.15 C1005.2,1512.91 1006.2,1513.66 1007.2,1514.41 C1008.2,1515.15 1009.2,1515.9 1010.2,1516.64 C1011.2,1517.37 1012.2,1518.11 1013.2,1518.84 C1014.2,1519.57 1015.2,1520.29 1016.2,1521.01 C1017.2,1521.73 1018.2,1522.44 1019.2,1523.15 C1020.2,1523.86 1021.2,1524.57 1022.2,1525.27 C1023.2,1525.97 1024.2,1526.67 1025.2,1527.36 C1026.2,1528.06 1027.2,1528.74 1028.2,1529.43 C1029.2,1530.11 1030.2,1530.79 1031.2,1531.47 C1032.2,1532.14 1033.2,1532.82 1034.2,1533.48 C1035.2,1534.15 1036.2,1534.82 1037.2,1535.48 C1038.2,1536.14 1039.2,1536.79 1040.2,1537.44 C1041.2,1538.1 1042.2,1538.74 1043.2,1539.39 C1044.2,1540.03 1045.2,1540.67 1046.2,1541.31 C1047.2,1541.95 1048.2,1542.58 1049.2,1543.21 C1050.2,1543.84 1051.2,1544.47 1052.2,1545.09 C1053.2,1545.72 1054.2,1546.34 1055.2,1546.95 C1056.2,1547.57 1057.2,1548.18 1058.2,1548.79 C1059.2,1549.4 1060.2,1550.01 1061.2,1550.61 C1062.2,1551.22 1063.2,1551.82 1064.2,1552.42 C1065.2,1553.01 1066.2,1553.61 1067.2,1554.2 C1068.2,1554.79 1069.2,1555.38 1070.2,1555.97 C1071.2,1556.55 1072.2,1557.14 1073.2,1557.72 C1074.2,1558.3 1075.2,1558.87 1076.2,1559.45 C1077.2,1560.03 1078.2,1560.6 1079.2,1561.17 C1080.2,1561.74 1081.2,1562.31 1082.2,1562.87 C1083.2,1563.44 1084.2,1564 1085.2,1564.56 C1086.2,1565.12 1087.2,1565.68 1088.2,1566.24 C1089.2,1566.79 1090.2,1567.35 1091.2,1567.9 C1092.2,1568.45 1093.2,1569 1094.2,1569.55 C1095.2,1570.09 1096.2,1570.64 1097.2,1571.18 C1098.2,1571.73 1099.2,1572.27 1100.2,1572.81 C1101.2,1573.35 1102.2,1573.89 1103.2,1574.43 C1104.2,1574.96 1105.2,1575.5 1106.2,1576.03 C1107.2,1576.56 1108.2,1577.1 1109.2,1577.63 C1110.2,1578.16 1111.2,1578.69 1112.2,1579.21 C1113.2,1579.74 1114.2,1580.27 1115.2,1580.79 C1116.2,1581.32 1117.2,1581.84 1118.2,1582.36 C1119.2,1582.89 1120.2,1583.41 1121.2,1583.93 C1122.2,1584.45 1123.2,1584.97 1124.2,1585.48 C1125.2,1586 1126.2,1586.52 1127.2,1587.04 C1128.2,1587.55 1129.2,1588.07 1130.2,1588.58 C1131.2,1589.1 1132.2,1589.61 1133.2,1590.12 C1134.2,1590.64 1135.2,1591.15 1136.2,1591.66 C1137.2,1592.17 1138.2,1592.68 1139.2,1593.2 C1140.2,1593.71 1141.2,1594.22 1142.2,1594.73 C1143.2,1595.24 1144.2,1595.75 1145.2,1596.26 C1146.2,1596.76 1147.2,1597.27 1148.2,1597.78 C1149.2,1598.29 1150.2,1598.8 1151.2,1599.31 C1152.2,1599.82 1153.2,1600.33 1154.2,1600.83 C1155.2,1601.34 1156.2,1601.85 1157.2,1602.36 C1158.2,1602.87 1159.2,1603.38 1160.2,1603.89 C1161.2,1604.4 1162.2,1604.91 1163.2,1605.42 C1164.2,1605.93 1165.2,1606.44 1166.2,1606.95 C1167.2,1607.46 1168.2,1607.97 1169.2,1608.48 C1170.2,1608.99 1171.2,1609.5 1172.2,1610.01 C1173.2,1610.52 1174.2,1611.03 1175.2,1611.54 C1176.2,1612.05 1177.2,1612.56 1178.2,1613.07 C1179.2,1613.58 1180.2,1614.09 1181.2,1614.6 C1182.2,1615.1 1183.2,1615.61 1184.2,1616.12 C1185.2,1616.62 1186.2,1617.13 1187.2,1617.63 C1188.2,1618.13 1189.2,1618.63 1190.2,1619.13 C1191.2,1619.63 1192.2,1620.13 1193.2,1620.63 C1194.2,1621.12 1195.2,1621.62 1196.2,1622.11 C1197.2,1622.6 1198.2,1623.09 1199.2,1623.58 C1200.2,1624.07 1201.2,1624.55 1202.2,1625.03 C1203.2,1625.51 1204.2,1625.99 1205.2,1626.47 C1206.2,1626.95 1207.2,1627.42 1208.2,1627.89 C1209.2,1628.36 1210.2,1628.83 1211.2,1629.29 C1212.2,1629.76 1213.2,1630.22 1214.2,1630.68 C1215.2,1631.13 1216.2,1631.59 1217.2,1632.04 C1218.2,1632.49 1219.2,1632.93 1220.2,1633.37 C1221.2,1633.81 1222.2,1634.25 1223.2,1634.68 C1224.2,1635.12 1225.2,1635.54 1226.2,1635.97 C1227.2,1636.39 1228.2,1636.81 1229.2,1637.22 C1230.2,1637.64 1231.2,1638.05 1232.2,1638.45 C1233.2,1638.86 1234.2,1639.25 1235.2,1639.65 C1236.2,1640.05 1237.2,1640.44 1238.2,1640.82 C1239.2,1641.21 1240.2,1641.59 1241.2,1641.97 C1242.2,1642.35 1243.2,1642.73 1244.2,1643.1 C1245.2,1643.47 1246.2,1643.84 1247.2,1644.21 C1248.2,1644.58 1249.2,1644.94 1250.2,1645.3 C1251.2,1645.67 1252.2,1646.03 1253.2,1646.39 C1254.2,1646.75 1255.2,1647.1 1256.2,1647.46 C1257.2,1647.81 1258.2,1648.17 1259.2,1648.52 C1260.2,1648.88 1261.2,1649.23 1262.2,1649.58 C1263.2,1649.94 1264.2,1650.29 1265.2,1650.64 C1266.2,1650.99 1267.2,1651.34 1268.2,1651.7 C1269.2,1652.05 1270.2,1652.4 1271.2,1652.76 C1272.2,1653.11 1273.2,1653.47 1274.2,1653.82 C1275.2,1654.18 1276.2,1654.53 1277.2,1654.89 C1278.2,1655.24 1279.2,1655.6 1280.2,1655.96 C1281.2,1656.31 1282.2,1656.67 1283.2,1657.03 C1284.2,1657.38 1285.2,1657.74 1286.2,1658.1 C1287.2,1658.46 1288.2,1658.82 1289.2,1659.18 C1290.2,1659.54 1291.2,1659.9 1292.2,1660.26 C1293.2,1660.62 1294.2,1660.98 1295.2,1661.34 C1296.2,1661.71 1297.2,1662.07 1298.2,1662.43 C1299.2,1662.79 1300.2,1663.16 1301.2,1663.52 C1302.2,1663.89 1303.2,1664.25 1304.2,1664.62 C1305.2,1664.98 1306.2,1665.35 1307.2,1665.72 C1308.2,1666.08 1309.2,1666.45 1310.2,1666.82 C1311.2,1667.19 1312.2,1667.56 1313.2,1667.93 C1314.2,1668.3 1315.2,1668.67 1316.2,1669.04 C1317.2,1669.41 1318.2,1669.78 1319.2,1670.15 C1320.2,1670.52 1321.2,1670.9 1322.2,1671.27 C1323.2,1671.64 1324.2,1672.02 1325.2,1672.39 C1326.2,1672.77 1327.2,1673.14 1328.2,1673.52 C1329.2,1673.9 1330.2,1674.28 1331.2,1674.65 C1332.2,1675.03 1333.2,1675.41 1334.2,1675.79 C1335.2,1676.17 1336.2,1676.55 1337.2,1676.93 C1338.2,1677.32 1339.2,1677.7 1340.2,1678.08 C1341.2,1678.46 1342.2,1678.85 1343.2,1679.23 C1344.2,1679.62 1345.2,1680 1346.2,1680.39 C1347.2,1680.78 1348.2,1681.16 1349.2,1681.55 C1350.2,1681.94 1351.2,1682.33 1352.2,1682.72 C1353.2,1683.11 1354.2,1683.5 1355.2,1683.89 C1356.2,1684.29 1357.2,1684.68 1358.2,1685.07 C1359.2,1685.47 1360.2,1685.86 1361.2,1686.26 C1362.2,1686.65 1363.2,1687.05 1364.2,1687.44 C1365.2,1687.84 1366.2,1688.24 1367.2,1688.64 C1368.2,1689.04 1369.2,1689.43 1370.2,1689.83 C1371.2,1690.23 1372.2,1690.63 1373.2,1691.03 C1374.2,1691.43 1375.2,1691.83 1376.2,1692.23 C1377.2,1692.63 1378.2,1693.03 1379.2,1693.43 C1380.2,1693.83 1381.2,1694.23 1382.2,1694.63 C1383.2,1695.03 1384.2,1695.43 1385.2,1695.82 C1386.2,1696.22 1387.2,1696.62 1388.2,1697.02 C1389.2,1697.42 1390.2,1697.82 1391.2,1698.21 C1392.2,1698.61 1393.2,1699.01 1394.2,1699.4 C1395.2,1699.8 1396.2,1700.19 1397.2,1700.59 C1398.2,1700.98 1399.2,1701.37 1400.2,1701.77 C1401.2,1702.16 1402.2,1702.55 1403.2,1702.94 C1404.2,1703.33 1405.2,1703.72 1406.2,1704.11 C1407.2,1704.49 1408.2,1704.88 1409.2,1705.26 C1410.2,1705.65 1411.2,1706.03 1412.2,1706.41 C1413.2,1706.8 1414.2,1707.18 1415.2,1707.55 C1416.2,1707.93 1417.2,1708.31 1418.2,1708.68 C1419.2,1709.06 1420.2,1709.43 1421.2,1709.8 C1422.2,1710.18 1423.2,1710.54 1424.2,1710.91 C1425.2,1711.28 1426.2,1711.64 1427.2,1712.01 C1428.2,1712.37 1429.2,1712.73 1430.2,1713.09 C1431.2,1713.45 1432.2,1713.8 1433.2,1714.15 C1434.2,1714.51 1435.2,1714.86 1436.2,1715.21 C1437.2,1715.55 1438.2,1715.9 1439.2,1716.24 C1440.2,1716.58 1441.2,1716.92 1442.2,1717.26 C1443.2,1717.6 1444.2,1717.93 1445.2,1718.26 C1446.2,1718.59 1447.2,1718.92 1448.2,1719.24 C1449.2,1719.57 1450.2,1719.89 1451.2,1720.21 C1452.2,1720.53 1453.2,1720.84 1454.2,1721.15 C1455.2,1721.46 1456.2,1721.77 1457.2,1722.07 C1458.2,1722.38 1459.2,1722.68 1460.2,1722.98 C1461.2,1723.27 1462.2,1723.56 1463.2,1723.85 C1464.2,1724.14 1465.2,1724.43 1466.2,1724.71 C1467.2,1724.99 1468.2,1725.27 1469.2,1725.54 C1470.2,1725.81 1471.2,1726.08 1472.2,1726.35 C1473.2,1726.61 1474.2,1726.87 1475.2,1727.13 C1476.2,1727.38 1477.2,1727.63 1478.2,1727.88 C1479.2,1728.12 1480.2,1728.37 1481.2,1728.6 C1482.2,1728.84 1483.2,1729.07 1484.2,1729.3 C1485.2,1729.53 1486.2,1729.75 1487.2,1729.97 C1488.2,1730.19 1489.2,1730.4 1490.2,1730.61 C1491.2,1730.82 1492.7,1731.11 1493.2,1731.22" fill="none" stroke="#ff0000" stroke-width="3.9" stroke-linejoin="round" stroke-linecap="round"/>
<line x1="53" y1="1093.3" x2="53" y2="1161" stroke="#ff0000" stroke-width="3.8" />
<line x1="54" y1="1179.5" x2="54" y2="1195.9" stroke="#ff2020" stroke-width="2.6" />
<line x1="54" y1="1207.9" x2="54" y2="1244.5" stroke="#ff2020" stroke-width="2.6" />
<text transform="translate(74.35 1053.88) scale(0.9707 1)" font-size="51.87" font-weight="700" fill="#000">100</text>
<text transform="translate(96.13 1189.78) scale(0.9754 1)" font-size="51.87" font-weight="700" fill="#000">95</text>
<text transform="translate(95.46 1324.9) scale(0.9880 1)" font-size="50.46" font-weight="700" fill="#000">90</text>
<text transform="translate(98.57 1455.8) scale(0.9928 1)" font-size="50.46" font-weight="700" fill="#000">85</text>
<text transform="translate(103.59 1588.8) scale(0.9837 1)" font-size="50.46" font-weight="700" fill="#000">80</text>
<text transform="translate(100.72 1721.97) scale(0.9759 1)" font-size="52.62" font-weight="700" fill="#000">75</text>
<text transform="translate(101.84 1855.9) scale(1.0116 1)" font-size="50.32" font-weight="700" fill="#000">70</text>
<text transform="translate(313.17 1896.18) scale(0.9593 1)" font-size="52.16" font-weight="700" fill="#000">100</text>
<text transform="translate(539.03 1891.87) scale(0.9626 1)" font-size="52.58" font-weight="700" fill="#000">200</text>
<text transform="translate(767.08 1891.75) scale(0.9501 1)" font-size="52.39" font-weight="700" fill="#000">300</text>
<text transform="translate(996.24 1891.79) scale(0.9927 1)" font-size="51.17" font-weight="700" fill="#000">400</text>
<text transform="translate(1224 1891.49) scale(0.9829 1)" font-size="50.88" font-weight="700" fill="#000">500</text>
<text transform="translate(1453.9 1891.49) scale(0.9975 1)" font-size="50.88" font-weight="700" fill="#000">600</text>
<text transform="translate(1585.8 1095.5) scale(1.0332 1)" font-size="49.75" font-weight="700" fill="#000">2</text>
<text transform="translate(1589.11 1230.21) scale(1.1160 1)" font-size="49.05" font-weight="700" fill="#000">0</text>
<text transform="translate(1586.78 1362.1) scale(1.0150 1)" font-size="49.75" font-weight="700" fill="#000">-2</text>
<text transform="translate(1585.58 1496.9) scale(0.9257 1)" font-size="51.93" font-weight="700" fill="#000">-4</text>
<text transform="translate(1587 1628.08) scale(0.9604 1)" font-size="52.16" font-weight="700" fill="#000">-6</text>
<text transform="translate(1589.86 1767.48) scale(0.9362 1)" font-size="51.87" font-weight="700" fill="#000">-8</text>
<text transform="translate(748.19 1991.81) scale(1.0192 1)" font-size="50.08" font-weight="700" fill="#000">Temperature (</text>
<text transform="translate(1087.35 1977.94) scale(1.0140 1)" font-size="35.76" font-weight="700" fill="#000">O</text>
<text transform="translate(1118.98 1991.74) scale(1.0013 1)" font-size="50.4" font-weight="700" fill="#000">C)</text>
<text transform="translate(68.67 1582.7) rotate(-90) scale(0.9871 1)" font-size="50.99" font-weight="700" fill="#000">Weight % (%)</text>
<text transform="translate(1720 1756.23) rotate(-90) scale(1.0107 1)" font-size="50.35" font-weight="700" fill="#000">Derivative weight % (%/min)</text>
<text transform="translate(1770.72 1393.22) scale(1.1106 1)" font-size="88.44" font-weight="700" fill="#000">b</text>
<text transform="translate(315.51 1112.82) scale(0.8611 1)" font-size="28.03" font-weight="400" fill="#1c1c28" stroke="#1c1c28" stroke-width="0.7">Delta Y = 5.316 %</text>
<text transform="translate(974.91 1421.52) scale(0.8723 1)" font-size="27.62" font-weight="400" fill="#1c1c28" stroke="#1c1c28" stroke-width="0.7">Delta Y = 17.383 %</text>
<text transform="translate(1119.8 1709.53) scale(0.8991 1)" font-size="26.94" font-weight="400" fill="#1c1c28" stroke="#1c1c28" stroke-width="0.7">Delta Y = 3.148 %</text>
</svg>
</body></html>
